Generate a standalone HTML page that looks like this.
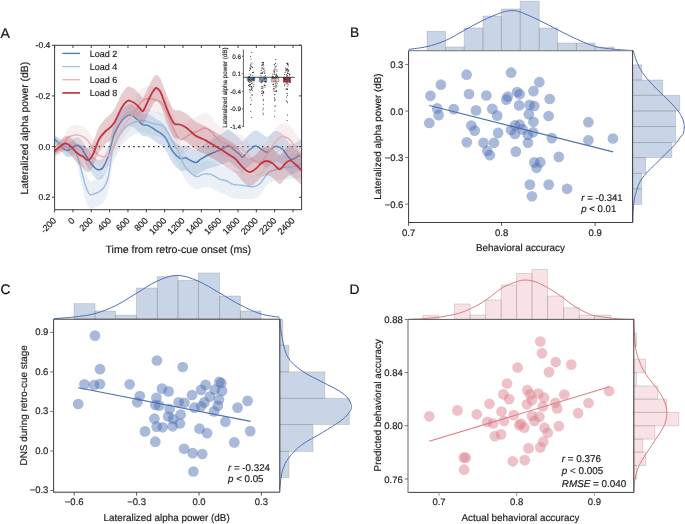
<!DOCTYPE html>
<html><head><meta charset="utf-8"><style>
html,body{margin:0;padding:0;background:#fff;width:685px;height:524px;overflow:hidden;}
body{position:relative;font-family:"Liberation Sans", sans-serif;}
</style></head><body>
<svg width="685" height="524" viewBox="0 0 685 524" style="position:absolute;left:0;top:0;will-change:transform"><g font-family='"Liberation Sans", sans-serif' stroke-linejoin="round" text-rendering="geometricPrecision"><defs><clipPath id="clipA"><rect x="54.6" y="45.5" width="247" height="164.2"/></clipPath></defs><g clip-path="url(#clipA)"><line x1="54.6" y1="146.6" x2="301.6" y2="146.6" stroke="#111" stroke-width="1.35" stroke-dasharray="1.45 3.5" stroke-dashoffset="0.5"/><path d="M54.7,135.2 C55.48,135.84 57.98,137.76 59.4,139.06 C60.82,140.35 61.95,142.19 63.2,142.98 C64.45,143.77 65.67,144.02 66.9,143.8 C68.13,143.59 69.37,142.63 70.6,141.68 C71.83,140.73 73.05,138.84 74.3,138.11 C75.55,137.39 76.85,136.98 78.1,137.32 C79.35,137.65 80.57,138.7 81.8,140.14 C83.03,141.57 84.27,144.01 85.5,145.94 C86.73,147.86 87.75,149.79 89.2,151.7 C90.65,153.6 92.75,156.05 94.2,157.37 C95.65,158.7 96.47,159.57 97.9,159.64 C99.33,159.71 101,160.23 102.8,157.78 C104.6,155.32 107.23,149 108.7,144.9 C110.17,140.8 110.63,136.75 111.6,133.17 C112.57,129.59 113.22,126.69 114.5,123.42 C115.78,120.16 117.55,116.4 119.3,113.59 C121.05,110.78 123.23,108.16 125,106.57 C126.77,104.99 128.45,104.27 129.9,104.1 C131.35,103.93 132.27,104.63 133.7,105.58 C135.13,106.52 137.05,108.47 138.5,109.78 C139.95,111.1 140.95,112.8 142.4,113.47 C143.85,114.14 145.6,113.38 147.2,113.8 C148.8,114.23 150.4,115.12 152,116.03 C153.6,116.93 155.18,118.26 156.8,119.25 C158.42,120.25 160.17,120.77 161.7,122.01 C163.23,123.26 164.7,124.81 166,126.73 C167.3,128.64 168.2,131.16 169.5,133.5 C170.8,135.84 171.98,138.64 173.8,140.76 C175.62,142.88 178.43,145.49 180.4,146.22 C182.37,146.96 183.97,144.97 185.6,145.17 C187.23,145.37 188.47,146.7 190.2,147.45 C191.93,148.2 194.35,149.79 196,149.65 C197.65,149.51 198.68,147.57 200.1,146.6 C201.52,145.63 202.9,144.82 204.5,143.81 C206.1,142.79 207.7,141.72 209.7,140.52 C211.7,139.32 214.25,137.88 216.5,136.59 C218.75,135.31 221.2,133.98 223.2,132.81 C225.2,131.65 226.73,129.48 228.5,129.6 C230.27,129.72 231.95,132.07 233.8,133.54 C235.65,135.02 238.12,137.19 239.6,138.48 C241.08,139.77 241.22,141.81 242.7,141.27 C244.18,140.73 246.4,137.03 248.5,135.22 C250.6,133.41 253.22,130.72 255.3,130.4 C257.38,130.08 259.08,132.26 261,133.32 C262.92,134.39 264.87,136.91 266.8,136.78 C268.73,136.65 270.83,133.5 272.6,132.56 C274.37,131.62 275.63,130.79 277.4,131.13 C279.17,131.48 281.43,132.91 283.2,134.62 C284.97,136.33 286.55,139.77 288,141.39 C289.45,143.01 290.13,144.41 291.9,144.34 C293.67,144.27 296.98,141.88 298.6,140.99 C300.22,140.1 301.1,139.33 301.6,139 L301.6,169 C301.1,169.33 300.22,170.1 298.6,171.01 C296.98,171.92 293.67,174.36 291.9,174.46 C290.13,174.56 289.45,173.19 288,171.61 C286.55,170.03 284.97,166.63 283.2,164.98 C281.43,163.32 279.17,161.96 277.4,161.67 C275.63,161.38 274.37,162.25 272.6,163.24 C270.83,164.23 268.73,167.45 266.8,167.62 C264.87,167.79 262.92,165.31 261,164.28 C259.08,163.24 257.38,161.05 255.3,161.4 C253.22,161.75 250.6,164.49 248.5,166.38 C246.4,168.27 244.18,172.11 242.7,172.73 C241.22,173.35 241.08,171.33 239.6,170.12 C238.12,168.91 235.65,166.88 233.8,165.46 C231.95,164.03 230.27,161.81 228.5,161.6 C226.73,161.39 225.2,163.42 223.2,164.19 C221.2,164.96 218.75,165.56 216.5,166.21 C214.25,166.86 211.7,167.42 209.7,168.08 C207.7,168.75 206.1,169.44 204.5,170.19 C202.9,170.95 201.52,171.71 200.1,172.6 C198.68,173.49 197.65,175.49 196,175.55 C194.35,175.61 191.93,173.84 190.2,172.95 C188.47,172.06 187.23,170.59 185.6,170.23 C183.97,169.87 182.37,171.67 180.4,170.78 C178.43,169.88 175.62,167.06 173.8,164.84 C171.98,162.63 170.8,159.86 169.5,157.5 C168.2,155.14 167.3,152.62 166,150.67 C164.7,148.72 163.23,147.11 161.7,145.79 C160.17,144.47 158.42,143.85 156.8,142.75 C155.18,141.64 153.6,140.2 152,139.17 C150.4,138.15 148.8,137.14 147.2,136.6 C145.6,136.05 143.85,136.69 142.4,135.93 C140.95,135.17 139.95,133.4 138.5,132.02 C137.05,130.63 135.13,128.61 133.7,127.62 C132.27,126.64 131.35,125.97 129.9,126.1 C128.45,126.23 126.77,126.94 125,128.43 C123.23,129.91 121.05,132.35 119.3,135.01 C117.55,137.67 115.78,141.24 114.5,144.38 C113.22,147.51 112.57,150.34 111.6,153.83 C110.63,157.32 110.17,161.3 108.7,165.3 C107.23,169.3 104.6,175.45 102.8,177.82 C101,180.2 99.33,179.73 97.9,179.56 C96.47,179.39 95.65,178.4 94.2,176.83 C92.75,175.25 90.65,172.33 89.2,170.1 C87.75,167.88 86.73,165.67 85.5,163.46 C84.27,161.26 83.03,158.53 81.8,156.86 C80.57,155.2 79.35,153.95 78.1,153.48 C76.85,153.02 75.55,153.55 74.3,154.09 C73.05,154.62 71.83,156.23 70.6,156.72 C69.37,157.2 68.13,157.45 66.9,157 C65.67,156.55 64.45,155.49 63.2,154.02 C61.95,152.54 60.82,149.95 59.4,148.14 C57.98,146.34 55.48,144.02 54.7,143.2 Z" fill="#4a78b4" fill-opacity="0.23"/><path d="M54.7,139.2 C55.48,139.93 57.98,142.05 59.4,143.6 C60.82,145.15 61.95,147.37 63.2,148.5 C64.45,149.63 65.67,150.28 66.9,150.4 C68.13,150.52 69.37,149.92 70.6,149.2 C71.83,148.48 73.05,146.73 74.3,146.1 C75.55,145.47 76.85,145 78.1,145.4 C79.35,145.8 80.57,146.95 81.8,148.5 C83.03,150.05 84.27,152.63 85.5,154.7 C86.73,156.77 87.75,158.83 89.2,160.9 C90.65,162.97 92.75,165.65 94.2,167.1 C95.65,168.55 96.47,169.48 97.9,169.6 C99.33,169.72 101,170.22 102.8,167.8 C104.6,165.38 107.23,159.15 108.7,155.1 C110.17,151.05 110.63,147.03 111.6,143.5 C112.57,139.97 113.22,137.1 114.5,133.9 C115.78,130.7 117.55,127.03 119.3,124.3 C121.05,121.57 123.23,119.03 125,117.5 C126.77,115.97 128.45,115.25 129.9,115.1 C131.35,114.95 132.27,115.63 133.7,116.6 C135.13,117.57 137.05,119.55 138.5,120.9 C139.95,122.25 140.95,123.98 142.4,124.7 C143.85,125.42 145.6,124.72 147.2,125.2 C148.8,125.68 150.4,126.63 152,127.6 C153.6,128.57 155.18,129.95 156.8,131 C158.42,132.05 160.17,132.62 161.7,133.9 C163.23,135.18 164.7,136.77 166,138.7 C167.3,140.63 168.2,143.15 169.5,145.5 C170.8,147.85 171.98,150.63 173.8,152.8 C175.62,154.97 178.43,157.68 180.4,158.5 C182.37,159.32 183.97,157.42 185.6,157.7 C187.23,157.98 188.47,159.38 190.2,160.2 C191.93,161.02 194.35,162.7 196,162.6 C197.65,162.5 198.68,160.53 200.1,159.6 C201.52,158.67 202.9,157.88 204.5,157 C206.1,156.12 207.7,155.23 209.7,154.3 C211.7,153.37 214.25,152.37 216.5,151.4 C218.75,150.43 221.2,149.47 223.2,148.5 C225.2,147.53 226.73,145.43 228.5,145.6 C230.27,145.77 231.95,148.05 233.8,149.5 C235.65,150.95 238.12,153.05 239.6,154.3 C241.08,155.55 241.22,157.58 242.7,157 C244.18,156.42 246.4,152.65 248.5,150.8 C250.6,148.95 253.22,146.23 255.3,145.9 C257.38,145.57 259.08,147.75 261,148.8 C262.92,149.85 264.87,152.35 266.8,152.2 C268.73,152.05 270.83,148.87 272.6,147.9 C274.37,146.93 275.63,146.08 277.4,146.4 C279.17,146.72 281.43,148.12 283.2,149.8 C284.97,151.48 286.55,154.9 288,156.5 C289.45,158.1 290.13,159.48 291.9,159.4 C293.67,159.32 296.98,156.9 298.6,156 C300.22,155.1 301.1,154.33 301.6,154" fill="none" stroke="#4a78b4" stroke-width="1.5"/><path d="M54.7,136 C55.58,136.39 58.28,137.75 60,138.32 C61.72,138.9 63.33,139.16 65,139.46 C66.67,139.75 68.58,139.84 70,140.11 C71.42,140.38 72.55,140.6 73.5,141.06 C74.45,141.53 74.87,141.57 75.7,142.89 C76.53,144.21 77.53,146.54 78.5,148.97 C79.47,151.39 80.42,153.96 81.5,157.46 C82.58,160.97 83.92,166.58 85,170 C86.08,173.42 87.13,176.2 88,178 C88.87,179.8 89.28,180.47 90.2,180.8 C91.12,181.13 92.28,180.37 93.5,180 C94.72,179.63 95.87,179.57 97.5,178.6 C99.13,177.63 101.72,176.13 103.3,174.2 C104.88,172.27 105.95,170.03 107,167 C108.05,163.97 108.77,160.83 109.6,156 C110.43,151.17 111.18,142 112,138.01 C112.82,134.03 113.45,134.44 114.5,132.07 C115.55,129.7 116.87,126.42 118.3,123.82 C119.73,121.23 121.48,118.42 123.1,116.5 C124.72,114.59 126.35,113.48 128,112.35 C129.65,111.22 131.33,110.35 133,109.72 C134.67,109.09 136.27,108.81 138,108.57 C139.73,108.32 141.7,108.03 143.4,108.25 C145.1,108.47 146.43,109.3 148.2,109.89 C149.97,110.47 152.08,111.33 154,111.77 C155.92,112.22 158.03,112.06 159.7,112.55 C161.37,113.04 162.7,113.54 164,114.72 C165.3,115.89 166.42,117.8 167.5,119.59 C168.58,121.39 169.42,123.52 170.5,125.48 C171.58,127.44 172.62,128.93 174,131.35 C175.38,133.77 177.18,136.66 178.8,139.99 C180.42,143.33 181.8,148.12 183.7,151.37 C185.6,154.62 188.02,157.47 190.2,159.5 C192.38,161.53 194.62,163.31 196.8,163.54 C198.98,163.77 201.12,161.37 203.3,160.9 C205.48,160.42 207.7,160.22 209.9,160.7 C212.1,161.18 214.82,162.97 216.5,163.79 C218.18,164.6 218.32,165.03 220,165.58 C221.68,166.13 224.42,166.32 226.6,167.11 C228.78,167.9 230.92,169.63 233.1,170.31 C235.28,171 237.52,170.83 239.7,171.23 C241.88,171.62 244.02,172.16 246.2,172.7 C248.38,173.25 250.62,174.43 252.8,174.47 C254.98,174.5 257.38,174.22 259.3,172.92 C261.22,171.62 262.65,168.67 264.3,166.67 C265.95,164.68 267.3,162.38 269.2,160.96 C271.1,159.53 273.9,158.93 275.7,158.14 C277.5,157.35 278,156.77 280,156.23 C282,155.69 284.78,155.49 287.7,154.9 C290.62,154.31 295.18,153.35 297.5,152.69 C299.82,152.02 300.92,151.2 301.6,150.9 L301.6,176.9 C300.92,177.17 299.82,178.08 297.5,178.51 C295.18,178.95 290.62,179.33 287.7,179.5 C284.78,179.68 282,179.35 280,179.57 C278,179.8 277.5,180.28 275.7,180.86 C273.9,181.44 271.1,181.73 269.2,183.04 C267.3,184.36 265.95,186.62 264.3,188.73 C262.65,190.83 261.22,193.98 259.3,195.68 C257.38,197.38 254.98,198.36 252.8,198.93 C250.62,199.5 248.38,199.09 246.2,199.1 C244.02,199.1 241.88,199.11 239.7,198.97 C237.52,198.84 235.28,198.97 233.1,198.29 C230.92,197.61 228.78,195.77 226.6,194.89 C224.42,194.01 221.68,193.67 220,193.02 C218.32,192.37 218.18,191.93 216.5,191.01 C214.82,190.09 212.1,188.12 209.9,187.5 C207.7,186.88 205.48,186.94 203.3,187.3 C201.12,187.66 198.98,189.96 196.8,189.66 C194.62,189.36 192.38,187.57 190.2,185.5 C188.02,183.43 185.6,180.55 183.7,177.23 C181.8,173.92 180.42,169.04 178.8,165.61 C177.18,162.18 175.38,159.16 174,156.65 C172.62,154.13 171.58,152.56 170.5,150.52 C169.42,148.48 168.58,146.28 167.5,144.41 C166.42,142.53 165.3,140.54 164,139.28 C162.7,138.02 161.37,137.42 159.7,136.85 C158.03,136.27 155.92,136.32 154,135.83 C152.08,135.34 149.97,134.46 148.2,133.91 C146.43,133.36 145.1,132.63 143.4,132.55 C141.7,132.47 139.73,132.98 138,133.43 C136.27,133.89 134.67,134.41 133,135.28 C131.33,136.15 129.65,137.28 128,138.65 C126.35,140.02 124.72,141.38 123.1,143.5 C121.48,145.62 119.73,148.64 118.3,151.38 C116.87,154.12 115.55,157.5 114.5,159.93 C113.45,162.36 112.82,161.97 112,165.99 C111.18,170 110.43,179.16 109.6,184 C108.77,188.84 108.05,191.97 107,195 C105.95,198.03 104.88,200.27 103.3,202.2 C101.72,204.13 99.13,205.63 97.5,206.6 C95.87,207.57 94.72,207.63 93.5,208 C92.28,208.37 91.12,209.13 90.2,208.8 C89.28,208.47 88.87,207.8 88,206 C87.13,204.2 86.08,201.58 85,198 C83.92,194.42 82.58,189.03 81.5,184.54 C80.42,180.04 79.47,174.94 78.5,171.03 C77.53,167.13 76.53,163.12 75.7,161.11 C74.87,159.09 74.45,159.64 73.5,158.94 C72.55,158.23 71.42,157.79 70,156.89 C68.58,155.99 66.67,154.75 65,153.54 C63.33,152.34 61.72,150.93 60,149.68 C58.28,148.42 55.58,146.61 54.7,146 Z" fill="#96b4d2" fill-opacity="0.2"/><path d="M54.7,141 C55.58,141.5 58.28,143.08 60,144 C61.72,144.92 63.33,145.75 65,146.5 C66.67,147.25 68.58,147.92 70,148.5 C71.42,149.08 72.55,149.42 73.5,150 C74.45,150.58 74.87,150.33 75.7,152 C76.53,153.67 77.53,156.83 78.5,160 C79.47,163.17 80.42,167 81.5,171 C82.58,175 83.92,180.5 85,184 C86.08,187.5 87.13,190.2 88,192 C88.87,193.8 89.28,194.47 90.2,194.8 C91.12,195.13 92.28,194.37 93.5,194 C94.72,193.63 95.87,193.57 97.5,192.6 C99.13,191.63 101.72,190.13 103.3,188.2 C104.88,186.27 105.95,184.03 107,181 C108.05,177.97 108.77,174.83 109.6,170 C110.43,165.17 111.18,156 112,152 C112.82,148 113.45,148.4 114.5,146 C115.55,143.6 116.87,140.27 118.3,137.6 C119.73,134.93 121.48,132.02 123.1,130 C124.72,127.98 126.35,126.75 128,125.5 C129.65,124.25 131.33,123.25 133,122.5 C134.67,121.75 136.27,121.35 138,121 C139.73,120.65 141.7,120.25 143.4,120.4 C145.1,120.55 146.43,121.33 148.2,121.9 C149.97,122.47 152.08,123.33 154,123.8 C155.92,124.27 158.03,124.17 159.7,124.7 C161.37,125.23 162.7,125.78 164,127 C165.3,128.22 166.42,130.17 167.5,132 C168.58,133.83 169.42,136 170.5,138 C171.58,140 172.62,141.53 174,144 C175.38,146.47 177.18,149.42 178.8,152.8 C180.42,156.18 181.8,161.02 183.7,164.3 C185.6,167.58 188.02,170.45 190.2,172.5 C192.38,174.55 194.62,176.33 196.8,176.6 C198.98,176.87 201.12,174.52 203.3,174.1 C205.48,173.68 207.7,173.55 209.9,174.1 C212.1,174.65 214.82,176.53 216.5,177.4 C218.18,178.27 218.32,178.7 220,179.3 C221.68,179.9 224.42,180.17 226.6,181 C228.78,181.83 230.92,183.62 233.1,184.3 C235.28,184.98 237.52,184.83 239.7,185.1 C241.88,185.37 244.02,185.63 246.2,185.9 C248.38,186.17 250.62,186.97 252.8,186.7 C254.98,186.43 257.38,185.8 259.3,184.3 C261.22,182.8 262.65,179.75 264.3,177.7 C265.95,175.65 267.3,173.37 269.2,172 C271.1,170.63 273.9,170.18 275.7,169.5 C277.5,168.82 278,168.28 280,167.9 C282,167.52 284.78,167.58 287.7,167.2 C290.62,166.82 295.18,166.15 297.5,165.6 C299.82,165.05 300.92,164.18 301.6,163.9" fill="none" stroke="#9dbcdf" stroke-width="1.4"/><path d="M54.7,147 C55.42,146.57 57.38,146.31 59,144.42 C60.62,142.53 62.88,138.28 64.4,135.67 C65.92,133.05 66.65,130.41 68.1,128.74 C69.55,127.07 71.43,126.27 73.1,125.62 C74.77,124.98 76.45,124.72 78.1,124.89 C79.75,125.05 81.35,125.62 83,126.62 C84.65,127.62 86.35,128.97 88,130.89 C89.65,132.81 91.25,135.92 92.9,138.12 C94.55,140.33 96.38,142.83 97.9,144.12 C99.42,145.4 100.63,145.63 102,145.83 C103.37,146.03 104.83,145.72 106.1,145.33 C107.37,144.93 108.53,144.89 109.6,143.45 C110.67,142.01 111.53,138.91 112.5,136.7 C113.47,134.48 113.95,133.22 115.4,130.15 C116.85,127.08 119.27,121.72 121.2,118.26 C123.13,114.81 125.07,112.05 127,109.4 C128.93,106.75 131.2,104.52 132.8,102.38 C134.4,100.24 135.4,98.45 136.6,96.56 C137.8,94.68 138.6,92.73 140,91.08 C141.4,89.44 143.35,87.54 145,86.71 C146.65,85.88 148.25,86.01 149.9,86.09 C151.55,86.17 153.23,86.73 154.9,87.2 C156.57,87.67 158.45,87.94 159.9,88.92 C161.35,89.89 162.37,90.94 163.6,93.04 C164.83,95.14 166.07,98.71 167.3,101.53 C168.53,104.36 169.77,107.37 171,110.01 C172.23,112.65 173.62,115.26 174.7,117.37 C175.78,119.48 176.48,121.28 177.5,122.68 C178.52,124.08 179.45,125.72 180.8,125.77 C182.15,125.82 183.98,124.02 185.6,122.97 C187.22,121.93 188.57,120.61 190.5,119.5 C192.43,118.4 194.97,117.36 197.2,116.33 C199.43,115.29 202.13,113.72 203.9,113.3 C205.67,112.89 206.35,113 207.8,113.83 C209.25,114.67 211.15,116.74 212.6,118.33 C214.05,119.91 215.05,121.82 216.5,123.37 C217.95,124.91 219.7,126.53 221.3,127.61 C222.9,128.69 224.33,129.1 226.1,129.84 C227.87,130.58 230.25,131.27 231.9,132.03 C233.55,132.79 234.35,133.85 236,134.4 C237.65,134.95 239.72,134.02 241.8,135.3 C243.88,136.58 246.25,140 248.5,142.1 C250.75,144.2 253.37,146.78 255.3,147.9 C257.23,149.02 258.65,149.28 260.1,148.8 C261.55,148.32 262.72,146.45 264,145 C265.28,143.55 266.05,142.68 267.8,140.1 C269.55,137.52 272.25,132.3 274.5,129.5 C276.75,126.7 279.05,124.14 281.3,123.3 C283.55,122.46 285.92,123.23 288,124.44 C290.08,125.66 291.87,128.23 293.8,130.6 C295.73,132.97 298.3,136.85 299.6,138.67 C300.9,140.48 301.27,141.03 301.6,141.5 L301.6,171.5 C301.27,171 300.9,170.55 299.6,168.53 C298.3,166.52 295.73,162.17 293.8,159.4 C291.87,156.64 290.08,153.47 288,151.96 C285.92,150.44 283.55,149.54 281.3,150.3 C279.05,151.06 276.75,153.7 274.5,156.5 C272.25,159.3 269.55,164.52 267.8,167.1 C266.05,169.68 265.28,170.55 264,172 C262.72,173.45 261.55,175.32 260.1,175.8 C258.65,176.28 257.23,176.02 255.3,174.9 C253.37,173.78 250.75,171.2 248.5,169.1 C246.25,167 243.88,163.58 241.8,162.3 C239.72,161.02 237.65,161.92 236,161.4 C234.35,160.88 233.55,159.81 231.9,159.17 C230.25,158.53 227.87,158.09 226.1,157.56 C224.33,157.03 222.9,156.85 221.3,155.99 C219.7,155.14 217.95,153.79 216.5,152.43 C215.05,151.08 214.05,149.32 212.6,147.87 C211.15,146.43 209.25,144.53 207.8,143.77 C206.35,143 205.67,142.91 203.9,143.3 C202.13,143.68 199.43,145.17 197.2,146.07 C194.97,146.97 192.43,147.77 190.5,148.7 C188.57,149.62 187.22,150.77 185.6,151.63 C183.98,152.48 182.15,154.05 180.8,153.83 C179.45,153.61 178.52,151.85 177.5,150.32 C176.48,148.78 175.78,146.89 174.7,144.63 C173.62,142.38 172.23,139.59 171,136.79 C169.77,134 168.53,130.84 167.3,127.87 C166.07,124.89 164.83,121.19 163.6,118.96 C162.37,116.73 161.35,115.57 159.9,114.48 C158.45,113.39 156.57,112.96 154.9,112.4 C153.23,111.84 151.55,111.23 149.9,111.11 C148.25,110.99 146.65,110.89 145,111.69 C143.35,112.49 141.4,114.33 140,115.92 C138.6,117.51 137.8,119.42 136.6,121.24 C135.4,123.05 134.4,124.79 132.8,126.82 C131.2,128.85 128.93,130.91 127,133.4 C125.07,135.88 123.13,138.46 121.2,141.74 C119.27,145.01 116.85,150.12 115.4,153.05 C113.95,155.98 113.47,157.18 112.5,159.3 C111.53,161.42 110.67,164.42 109.6,165.75 C108.53,167.08 107.37,167 106.1,167.27 C104.83,167.54 103.37,167.7 102,167.37 C100.63,167.04 99.42,166.7 97.9,165.28 C96.38,163.87 94.55,161.21 92.9,158.88 C91.25,156.55 89.65,153.33 88,151.31 C86.35,149.29 84.65,147.85 83,146.78 C81.35,145.72 79.75,145.15 78.1,144.91 C76.45,144.68 74.77,145.19 73.1,145.38 C71.43,145.57 69.55,145.23 68.1,146.06 C66.65,146.89 65.92,148.75 64.4,150.33 C62.88,151.92 60.62,154.47 59,155.58 C57.38,156.69 55.42,156.76 54.7,157 Z" fill="#d7afb4" fill-opacity="0.2"/><path d="M54.7,152 C55.42,151.67 57.38,151.5 59,150 C60.62,148.5 62.88,145.1 64.4,143 C65.92,140.9 66.65,138.65 68.1,137.4 C69.55,136.15 71.43,135.92 73.1,135.5 C74.77,135.08 76.45,134.7 78.1,134.9 C79.75,135.1 81.35,135.67 83,136.7 C84.65,137.73 86.35,139.13 88,141.1 C89.65,143.07 91.25,146.23 92.9,148.5 C94.55,150.77 96.38,153.35 97.9,154.7 C99.42,156.05 100.63,156.33 102,156.6 C103.37,156.87 104.83,156.63 106.1,156.3 C107.37,155.97 108.53,155.98 109.6,154.6 C110.67,153.22 111.53,150.17 112.5,148 C113.47,145.83 113.95,144.6 115.4,141.6 C116.85,138.6 119.27,133.37 121.2,130 C123.13,126.63 125.07,123.97 127,121.4 C128.93,118.83 131.2,116.68 132.8,114.6 C134.4,112.52 135.4,110.75 136.6,108.9 C137.8,107.05 138.6,105.12 140,103.5 C141.4,101.88 143.35,100.02 145,99.2 C146.65,98.38 148.25,98.5 149.9,98.6 C151.55,98.7 153.23,99.28 154.9,99.8 C156.57,100.32 158.45,100.67 159.9,101.7 C161.35,102.73 162.37,103.83 163.6,106 C164.83,108.17 166.07,111.8 167.3,114.7 C168.53,117.6 169.77,120.68 171,123.4 C172.23,126.12 173.62,128.82 174.7,131 C175.78,133.18 176.48,135.03 177.5,136.5 C178.52,137.97 179.45,139.67 180.8,139.8 C182.15,139.93 183.98,138.25 185.6,137.3 C187.22,136.35 188.57,135.12 190.5,134.1 C192.43,133.08 194.97,132.17 197.2,131.2 C199.43,130.23 202.13,128.7 203.9,128.3 C205.67,127.9 206.35,128 207.8,128.8 C209.25,129.6 211.15,131.58 212.6,133.1 C214.05,134.62 215.05,136.45 216.5,137.9 C217.95,139.35 219.7,140.83 221.3,141.8 C222.9,142.77 224.33,143.07 226.1,143.7 C227.87,144.33 230.25,144.9 231.9,145.6 C233.55,146.3 234.35,147.37 236,147.9 C237.65,148.43 239.72,147.52 241.8,148.8 C243.88,150.08 246.25,153.5 248.5,155.6 C250.75,157.7 253.37,160.28 255.3,161.4 C257.23,162.52 258.65,162.78 260.1,162.3 C261.55,161.82 262.72,159.95 264,158.5 C265.28,157.05 266.05,156.18 267.8,153.6 C269.55,151.02 272.25,145.8 274.5,143 C276.75,140.2 279.05,137.6 281.3,136.8 C283.55,136 285.92,136.83 288,138.2 C290.08,139.57 291.87,142.43 293.8,145 C295.73,147.57 298.3,151.68 299.6,153.6 C300.9,155.52 301.27,156.02 301.6,156.5" fill="none" stroke="#eab2b6" stroke-width="1.5"/><path d="M54.7,146 C55.48,145.29 57.78,143.3 59.4,141.76 C61.02,140.21 62.95,137.65 64.4,136.73 C65.85,135.82 66.85,135.97 68.1,136.27 C69.35,136.58 70.65,137.5 71.9,138.55 C73.15,139.6 74.37,141.55 75.6,142.57 C76.83,143.6 78.07,144.25 79.3,144.68 C80.53,145.11 81.77,144.65 83,145.15 C84.23,145.65 85.67,147.28 86.7,147.7 C87.73,148.12 88.17,148.52 89.2,147.67 C90.23,146.81 91.65,145.1 92.9,142.57 C94.15,140.04 95.52,135.38 96.7,132.5 C97.88,129.63 98.48,127.71 100,125.32 C101.52,122.93 104.03,120.03 105.8,118.15 C107.57,116.27 109.15,115.57 110.6,114.02 C112.05,112.48 113.22,111.05 114.5,108.87 C115.78,106.69 117.02,103.58 118.3,100.95 C119.58,98.32 120.63,95.42 122.2,93.07 C123.77,90.71 126.15,87.74 127.7,86.82 C129.25,85.89 130.13,86.94 131.5,87.51 C132.87,88.08 134.48,89.01 135.9,90.23 C137.32,91.45 138.8,93.62 140,94.83 C141.2,96.04 141.87,98.47 143.1,97.51 C144.33,96.54 145.85,92.07 147.4,89.04 C148.95,86.02 150.95,81.69 152.4,79.35 C153.85,77.01 154.85,75.22 156.1,75 C157.35,74.78 158.65,76.1 159.9,78.03 C161.15,79.96 162.37,83.53 163.6,86.56 C164.83,89.6 166.07,93.22 167.3,96.24 C168.53,99.27 169.77,102.4 171,104.72 C172.23,107.03 173.22,109.16 174.7,110.12 C176.18,111.09 178.08,109.97 179.9,110.5 C181.72,111.03 183.83,112.18 185.6,113.3 C187.37,114.42 188.88,115.83 190.5,117.2 C192.12,118.57 193.7,120.38 195.3,121.5 C196.9,122.62 198.5,123.17 200.1,123.9 C201.7,124.63 203.3,125.08 204.9,125.9 C206.5,126.72 208.1,127.85 209.7,128.8 C211.3,129.75 212.88,130.65 214.5,131.6 C216.12,132.55 217.78,133.53 219.4,134.5 C221.02,135.47 222.43,136.27 224.2,137.4 C225.97,138.53 228.08,140.02 230,141.3 C231.92,142.58 234.08,143.67 235.7,145.1 C237.32,146.53 237.95,148 239.7,149.9 C241.45,151.8 244.43,155.13 246.2,156.5 C247.97,157.87 248.65,158.44 250.3,158.09 C251.95,157.75 254.27,155.92 256.1,154.42 C257.93,152.93 259.52,150.41 261.3,149.11 C263.08,147.82 264.93,146.71 266.8,146.66 C268.67,146.61 270.37,147.47 272.5,148.78 C274.63,150.1 277.52,154.51 279.6,154.57 C281.68,154.63 283.27,150.65 285,149.13 C286.73,147.61 288.18,145.33 290,145.44 C291.82,145.55 293.97,148.12 295.9,149.8 C297.83,151.48 300.65,154.55 301.6,155.5 L301.6,185.5 C300.65,184.55 297.83,181.49 295.9,179.8 C293.97,178.11 291.82,175.51 290,175.36 C288.18,175.2 286.73,177.42 285,178.87 C283.27,180.31 281.68,184.2 279.6,184.03 C277.52,183.85 274.63,179.26 272.5,177.82 C270.37,176.37 268.67,175.39 266.8,175.34 C264.93,175.29 263.08,176.28 261.3,177.49 C259.52,178.69 257.93,181.14 256.1,182.58 C254.27,184.01 251.95,185.79 250.3,186.11 C248.65,186.43 247.97,185.87 246.2,184.5 C244.43,183.13 241.45,179.8 239.7,177.9 C237.95,176 237.32,174.53 235.7,173.1 C234.08,171.67 231.92,170.58 230,169.3 C228.08,168.02 225.97,166.53 224.2,165.4 C222.43,164.27 221.02,163.47 219.4,162.5 C217.78,161.53 216.12,160.55 214.5,159.6 C212.88,158.65 211.3,157.75 209.7,156.8 C208.1,155.85 206.5,154.72 204.9,153.9 C203.3,153.08 201.7,152.63 200.1,151.9 C198.5,151.17 196.9,150.62 195.3,149.5 C193.7,148.38 192.12,146.57 190.5,145.2 C188.88,143.83 187.37,142.42 185.6,141.3 C183.83,140.18 181.72,139.07 179.9,138.5 C178.08,137.93 176.18,138.94 174.7,137.88 C173.22,136.81 172.23,134.54 171,132.08 C169.77,129.63 168.53,126.33 167.3,123.16 C166.07,119.98 164.83,116.2 163.6,113.04 C162.37,109.87 161.15,106.18 159.9,104.17 C158.65,102.16 157.35,100.79 156.1,101 C154.85,101.21 153.85,103.03 152.4,105.45 C150.95,107.88 148.95,112.38 147.4,115.56 C145.85,118.73 144.33,123.39 143.1,124.49 C141.87,125.6 141.2,123.26 140,122.17 C138.8,121.08 137.32,119.08 135.9,117.97 C134.48,116.86 132.87,116.02 131.5,115.49 C130.13,114.96 129.25,113.91 127.7,114.78 C126.15,115.66 123.77,118.49 122.2,120.73 C120.63,122.98 119.58,125.75 118.3,128.25 C117.02,130.75 115.78,133.71 114.5,135.73 C113.22,137.75 112.05,139.02 110.6,140.38 C109.15,141.73 107.57,142.2 105.8,143.85 C104.03,145.5 101.52,148.07 100,150.28 C98.48,152.49 97.88,154.34 96.7,157.1 C95.52,159.86 94.15,164.39 92.9,166.83 C91.65,169.27 90.23,170.92 89.2,171.73 C88.17,172.54 87.73,172.31 86.7,171.7 C85.67,171.09 84.23,169.22 83,168.05 C81.77,166.89 80.53,165.95 79.3,164.72 C78.07,163.48 76.83,162.07 75.6,160.63 C74.37,159.18 73.15,157.46 71.9,156.05 C70.65,154.63 69.35,153.06 68.1,152.13 C66.85,151.2 65.85,150.35 64.4,150.47 C62.95,150.59 61.02,151.92 59.4,152.84 C57.78,153.77 55.48,155.47 54.7,156 Z" fill="#af5566" fill-opacity="0.3"/><path d="M54.7,151 C55.48,150.38 57.78,148.53 59.4,147.3 C61.02,146.07 62.95,144.12 64.4,143.6 C65.85,143.08 66.85,143.58 68.1,144.2 C69.35,144.82 70.65,146.07 71.9,147.3 C73.15,148.53 74.37,150.37 75.6,151.6 C76.83,152.83 78.07,153.87 79.3,154.7 C80.53,155.53 81.77,155.77 83,156.6 C84.23,157.43 85.67,159.18 86.7,159.7 C87.73,160.22 88.17,160.53 89.2,159.7 C90.23,158.87 91.65,157.18 92.9,154.7 C94.15,152.22 95.52,147.62 96.7,144.8 C97.88,141.98 98.48,140.1 100,137.8 C101.52,135.5 104.03,132.77 105.8,131 C107.57,129.23 109.15,128.65 110.6,127.2 C112.05,125.75 113.22,124.4 114.5,122.3 C115.78,120.2 117.02,117.17 118.3,114.6 C119.58,112.03 120.63,109.2 122.2,106.9 C123.77,104.6 126.15,101.7 127.7,100.8 C129.25,99.9 130.13,100.95 131.5,101.5 C132.87,102.05 134.48,102.93 135.9,104.1 C137.32,105.27 138.8,107.35 140,108.5 C141.2,109.65 141.87,112.03 143.1,111 C144.33,109.97 145.85,105.4 147.4,102.3 C148.95,99.2 150.95,94.78 152.4,92.4 C153.85,90.02 154.85,88.22 156.1,88 C157.35,87.78 158.65,89.13 159.9,91.1 C161.15,93.07 162.37,96.7 163.6,99.8 C164.83,102.9 166.07,106.6 167.3,109.7 C168.53,112.8 169.77,116.02 171,118.4 C172.23,120.78 173.22,122.98 174.7,124 C176.18,125.02 178.08,123.95 179.9,124.5 C181.72,125.05 183.83,126.18 185.6,127.3 C187.37,128.42 188.88,129.83 190.5,131.2 C192.12,132.57 193.7,134.38 195.3,135.5 C196.9,136.62 198.5,137.17 200.1,137.9 C201.7,138.63 203.3,139.08 204.9,139.9 C206.5,140.72 208.1,141.85 209.7,142.8 C211.3,143.75 212.88,144.65 214.5,145.6 C216.12,146.55 217.78,147.53 219.4,148.5 C221.02,149.47 222.43,150.27 224.2,151.4 C225.97,152.53 228.08,154.02 230,155.3 C231.92,156.58 234.08,157.67 235.7,159.1 C237.32,160.53 237.95,162 239.7,163.9 C241.45,165.8 244.43,169.13 246.2,170.5 C247.97,171.87 248.65,172.43 250.3,172.1 C251.95,171.77 254.27,169.97 256.1,168.5 C257.93,167.03 259.52,164.55 261.3,163.3 C263.08,162.05 264.93,161 266.8,161 C268.67,161 270.37,161.92 272.5,163.3 C274.63,164.68 277.52,169.18 279.6,169.3 C281.68,169.42 283.27,165.48 285,164 C286.73,162.52 288.18,160.27 290,160.4 C291.82,160.53 293.97,163.12 295.9,164.8 C297.83,166.48 300.65,169.55 301.6,170.5" fill="none" stroke="#c23640" stroke-width="1.8"/></g><rect x="54.6" y="45.3" width="247.00000000000003" height="164.39999999999998" fill="none" stroke="#3a3a3a" stroke-width="1"/><line x1="52" y1="45.24" x2="54.6" y2="45.24" stroke="#3a3a3a" stroke-width="1" /><line x1="299" y1="45.24" x2="301.6" y2="45.24" stroke="#3a3a3a" stroke-width="1" /><text x="50.4" y="48.34" font-size="8.6" text-anchor="end" fill="#1c1c1c" stroke="#1c1c1c" stroke-width="0.18" >-0.4</text><line x1="52" y1="95.92" x2="54.6" y2="95.92" stroke="#3a3a3a" stroke-width="1" /><line x1="299" y1="95.92" x2="301.6" y2="95.92" stroke="#3a3a3a" stroke-width="1" /><text x="50.4" y="99.02" font-size="8.6" text-anchor="end" fill="#1c1c1c" stroke="#1c1c1c" stroke-width="0.18" >-0.2</text><line x1="52" y1="146.6" x2="54.6" y2="146.6" stroke="#3a3a3a" stroke-width="1" /><line x1="299" y1="146.6" x2="301.6" y2="146.6" stroke="#3a3a3a" stroke-width="1" /><text x="50.4" y="149.7" font-size="8.6" text-anchor="end" fill="#1c1c1c" stroke="#1c1c1c" stroke-width="0.18" >0.0</text><line x1="52" y1="197.28" x2="54.6" y2="197.28" stroke="#3a3a3a" stroke-width="1" /><line x1="299" y1="197.28" x2="301.6" y2="197.28" stroke="#3a3a3a" stroke-width="1" /><text x="50.4" y="200.38" font-size="8.6" text-anchor="end" fill="#1c1c1c" stroke="#1c1c1c" stroke-width="0.18" >0.2</text><line x1="54.6" y1="209.7" x2="54.6" y2="212.3" stroke="#3a3a3a" stroke-width="1" /><line x1="54.6" y1="45.3" x2="54.6" y2="47.9" stroke="#3a3a3a" stroke-width="1" /><text transform="translate(56.9,221.2) rotate(-45)" font-size="9" text-anchor="end" fill="#1c1c1c" stroke="#1c1c1c" stroke-width="0.18">-200</text><line x1="72.94" y1="209.7" x2="72.94" y2="212.3" stroke="#3a3a3a" stroke-width="1" /><line x1="72.94" y1="45.3" x2="72.94" y2="47.9" stroke="#3a3a3a" stroke-width="1" /><text transform="translate(75.24,221.2) rotate(-45)" font-size="9" text-anchor="end" fill="#1c1c1c" stroke="#1c1c1c" stroke-width="0.18">0</text><line x1="91.28" y1="209.7" x2="91.28" y2="212.3" stroke="#3a3a3a" stroke-width="1" /><line x1="91.28" y1="45.3" x2="91.28" y2="47.9" stroke="#3a3a3a" stroke-width="1" /><text transform="translate(93.58,221.2) rotate(-45)" font-size="9" text-anchor="end" fill="#1c1c1c" stroke="#1c1c1c" stroke-width="0.18">200</text><line x1="109.62" y1="209.7" x2="109.62" y2="212.3" stroke="#3a3a3a" stroke-width="1" /><line x1="109.62" y1="45.3" x2="109.62" y2="47.9" stroke="#3a3a3a" stroke-width="1" /><text transform="translate(111.92,221.2) rotate(-45)" font-size="9" text-anchor="end" fill="#1c1c1c" stroke="#1c1c1c" stroke-width="0.18">400</text><line x1="127.96" y1="209.7" x2="127.96" y2="212.3" stroke="#3a3a3a" stroke-width="1" /><line x1="127.96" y1="45.3" x2="127.96" y2="47.9" stroke="#3a3a3a" stroke-width="1" /><text transform="translate(130.26,221.2) rotate(-45)" font-size="9" text-anchor="end" fill="#1c1c1c" stroke="#1c1c1c" stroke-width="0.18">600</text><line x1="146.3" y1="209.7" x2="146.3" y2="212.3" stroke="#3a3a3a" stroke-width="1" /><line x1="146.3" y1="45.3" x2="146.3" y2="47.9" stroke="#3a3a3a" stroke-width="1" /><text transform="translate(148.6,221.2) rotate(-45)" font-size="9" text-anchor="end" fill="#1c1c1c" stroke="#1c1c1c" stroke-width="0.18">800</text><line x1="164.64" y1="209.7" x2="164.64" y2="212.3" stroke="#3a3a3a" stroke-width="1" /><line x1="164.64" y1="45.3" x2="164.64" y2="47.9" stroke="#3a3a3a" stroke-width="1" /><text transform="translate(166.94,221.2) rotate(-45)" font-size="9" text-anchor="end" fill="#1c1c1c" stroke="#1c1c1c" stroke-width="0.18">1000</text><line x1="182.98" y1="209.7" x2="182.98" y2="212.3" stroke="#3a3a3a" stroke-width="1" /><line x1="182.98" y1="45.3" x2="182.98" y2="47.9" stroke="#3a3a3a" stroke-width="1" /><text transform="translate(185.28,221.2) rotate(-45)" font-size="9" text-anchor="end" fill="#1c1c1c" stroke="#1c1c1c" stroke-width="0.18">1200</text><line x1="201.32" y1="209.7" x2="201.32" y2="212.3" stroke="#3a3a3a" stroke-width="1" /><line x1="201.32" y1="45.3" x2="201.32" y2="47.9" stroke="#3a3a3a" stroke-width="1" /><text transform="translate(203.62,221.2) rotate(-45)" font-size="9" text-anchor="end" fill="#1c1c1c" stroke="#1c1c1c" stroke-width="0.18">1400</text><line x1="219.66" y1="209.7" x2="219.66" y2="212.3" stroke="#3a3a3a" stroke-width="1" /><line x1="219.66" y1="45.3" x2="219.66" y2="47.9" stroke="#3a3a3a" stroke-width="1" /><text transform="translate(221.96,221.2) rotate(-45)" font-size="9" text-anchor="end" fill="#1c1c1c" stroke="#1c1c1c" stroke-width="0.18">1600</text><line x1="238" y1="209.7" x2="238" y2="212.3" stroke="#3a3a3a" stroke-width="1" /><line x1="238" y1="45.3" x2="238" y2="47.9" stroke="#3a3a3a" stroke-width="1" /><text transform="translate(240.3,221.2) rotate(-45)" font-size="9" text-anchor="end" fill="#1c1c1c" stroke="#1c1c1c" stroke-width="0.18">1800</text><line x1="256.34" y1="209.7" x2="256.34" y2="212.3" stroke="#3a3a3a" stroke-width="1" /><line x1="256.34" y1="45.3" x2="256.34" y2="47.9" stroke="#3a3a3a" stroke-width="1" /><text transform="translate(258.64,221.2) rotate(-45)" font-size="9" text-anchor="end" fill="#1c1c1c" stroke="#1c1c1c" stroke-width="0.18">2000</text><line x1="274.68" y1="209.7" x2="274.68" y2="212.3" stroke="#3a3a3a" stroke-width="1" /><line x1="274.68" y1="45.3" x2="274.68" y2="47.9" stroke="#3a3a3a" stroke-width="1" /><text transform="translate(276.98,221.2) rotate(-45)" font-size="9" text-anchor="end" fill="#1c1c1c" stroke="#1c1c1c" stroke-width="0.18">2200</text><line x1="293.02" y1="209.7" x2="293.02" y2="212.3" stroke="#3a3a3a" stroke-width="1" /><line x1="293.02" y1="45.3" x2="293.02" y2="47.9" stroke="#3a3a3a" stroke-width="1" /><text transform="translate(295.32,221.2) rotate(-45)" font-size="9" text-anchor="end" fill="#1c1c1c" stroke="#1c1c1c" stroke-width="0.18">2400</text><text x="178.3" y="253.1" font-size="10.6" text-anchor="middle" fill="#1c1c1c" stroke="#1c1c1c" stroke-width="0.18" >Time from retro-cue onset (ms)</text><text transform="translate(27.8,128.2) rotate(-90)" font-size="10.4" text-anchor="middle" fill="#1c1c1c" stroke="#1c1c1c" stroke-width="0.18">Lateralized alpha power (dB)</text><line x1="62.3" y1="53.4" x2="80" y2="53.4" stroke="#4a78b4" stroke-width="1.3" /><text x="89.7" y="56.7" font-size="9" text-anchor="start" fill="#1c1c1c" stroke="#1c1c1c" stroke-width="0.18" >Load 2</text><line x1="62.3" y1="66.57" x2="80" y2="66.57" stroke="#9dbcdf" stroke-width="1.2" /><text x="89.7" y="69.87" font-size="9" text-anchor="start" fill="#1c1c1c" stroke="#1c1c1c" stroke-width="0.18" >Load 4</text><line x1="62.3" y1="79.74" x2="80" y2="79.74" stroke="#eab2b6" stroke-width="1.3" /><text x="89.7" y="83.04" font-size="9" text-anchor="start" fill="#1c1c1c" stroke="#1c1c1c" stroke-width="0.18" >Load 6</text><line x1="62.3" y1="92.91" x2="80" y2="92.91" stroke="#c23640" stroke-width="1.7" /><text x="89.7" y="96.21" font-size="9" text-anchor="start" fill="#1c1c1c" stroke="#1c1c1c" stroke-width="0.18" >Load 8</text><line x1="243.4" y1="49.5" x2="243.4" y2="127" stroke="#3a3a3a" stroke-width="0.8"/><line x1="241.8" y1="56.3" x2="243.4" y2="56.3" stroke="#3a3a3a" stroke-width="0.7" /><text x="241" y="58.5" font-size="6.3" text-anchor="end" fill="#1c1c1c" stroke="#1c1c1c" stroke-width="0.18" style="stroke-width:0.15">0.6</text><line x1="241.8" y1="73.8" x2="243.4" y2="73.8" stroke="#3a3a3a" stroke-width="0.7" /><text x="241" y="76" font-size="6.3" text-anchor="end" fill="#1c1c1c" stroke="#1c1c1c" stroke-width="0.18" style="stroke-width:0.15">0.1</text><line x1="241.8" y1="91.3" x2="243.4" y2="91.3" stroke="#3a3a3a" stroke-width="0.7" /><text x="241" y="93.5" font-size="6.3" text-anchor="end" fill="#1c1c1c" stroke="#1c1c1c" stroke-width="0.18" style="stroke-width:0.15">-0.4</text><line x1="241.8" y1="108.8" x2="243.4" y2="108.8" stroke="#3a3a3a" stroke-width="0.7" /><text x="241" y="111" font-size="6.3" text-anchor="end" fill="#1c1c1c" stroke="#1c1c1c" stroke-width="0.18" style="stroke-width:0.15">-0.9</text><line x1="241.8" y1="126.3" x2="243.4" y2="126.3" stroke="#3a3a3a" stroke-width="0.7" /><text x="241" y="128.5" font-size="6.3" text-anchor="end" fill="#1c1c1c" stroke="#1c1c1c" stroke-width="0.18" style="stroke-width:0.15">-1.4</text><text transform="translate(226.6,87.6) rotate(-90)" font-size="6.3" text-anchor="middle" fill="#1c1c1c" stroke="#1c1c1c" stroke-width="0.15">Lateralized alpha power (dB)</text><rect x="247.3" y="77.3" width="7.7" height="3.5" fill="#4a78b4" stroke="#444" stroke-width="0.3"/><rect x="249.51" y="67.92" width="0.9" height="0.9" fill="#333"/><rect x="251.56" y="83.14" width="0.9" height="0.9" fill="#333"/><rect x="249.17" y="89" width="0.9" height="0.9" fill="#333"/><rect x="250.26" y="74.67" width="0.9" height="0.9" fill="#333"/><rect x="249.86" y="66.92" width="0.9" height="0.9" fill="#333"/><rect x="249.23" y="78.93" width="0.9" height="0.9" fill="#333"/><rect x="253.39" y="84.09" width="0.9" height="0.9" fill="#333"/><rect x="251.81" y="89.98" width="0.9" height="0.9" fill="#333"/><rect x="250.06" y="68" width="0.9" height="0.9" fill="#333"/><rect x="251.86" y="67.27" width="0.9" height="0.9" fill="#333"/><rect x="249.25" y="86.26" width="0.9" height="0.9" fill="#333"/><rect x="250.1" y="84.05" width="0.9" height="0.9" fill="#333"/><rect x="251.55" y="94.12" width="0.9" height="0.9" fill="#333"/><rect x="251.27" y="88.88" width="0.9" height="0.9" fill="#333"/><rect x="248.16" y="78.58" width="0.9" height="0.9" fill="#333"/><rect x="253.71" y="76.94" width="0.9" height="0.9" fill="#333"/><rect x="250.33" y="103.97" width="0.9" height="0.9" fill="#333"/><rect x="249.22" y="76.81" width="0.9" height="0.9" fill="#333"/><rect x="251.99" y="72.09" width="0.9" height="0.9" fill="#333"/><rect x="250.1" y="68.74" width="0.9" height="0.9" fill="#333"/><rect x="249.4" y="80.46" width="0.9" height="0.9" fill="#333"/><rect x="248" y="80.93" width="0.9" height="0.9" fill="#333"/><rect x="248.23" y="76.27" width="0.9" height="0.9" fill="#333"/><rect x="251.23" y="78.96" width="0.9" height="0.9" fill="#333"/><rect x="249.12" y="82.14" width="0.9" height="0.9" fill="#333"/><rect x="251.21" y="86.13" width="0.9" height="0.9" fill="#333"/><rect x="250.23" y="89.97" width="0.9" height="0.9" fill="#333"/><rect x="250.41" y="81.54" width="0.9" height="0.9" fill="#333"/><rect x="251.57" y="62.55" width="0.9" height="0.9" fill="#333"/><rect x="250.62" y="86.22" width="0.9" height="0.9" fill="#333"/><rect x="250.9" y="66.06" width="0.9" height="0.9" fill="#333"/><rect x="253.01" y="77.92" width="0.9" height="0.9" fill="#333"/><rect x="249.9" y="65.55" width="0.9" height="0.9" fill="#333"/><rect x="248.49" y="79.57" width="0.9" height="0.9" fill="#333"/><rect x="252.64" y="72.15" width="0.9" height="0.9" fill="#333"/><rect x="252.69" y="81.58" width="0.9" height="0.9" fill="#333"/><rect x="250.4" y="110.9" width="0.9" height="0.9" fill="#333"/><rect x="248.72" y="79.09" width="0.9" height="0.9" fill="#333"/><rect x="251.79" y="87.55" width="0.9" height="0.9" fill="#333"/><rect x="251.99" y="66.98" width="0.9" height="0.9" fill="#333"/><rect x="248.84" y="76.81" width="0.9" height="0.9" fill="#333"/><rect x="253.02" y="85.84" width="0.9" height="0.9" fill="#333"/><rect x="253.14" y="78.67" width="0.9" height="0.9" fill="#333"/><rect x="251.32" y="83.07" width="0.9" height="0.9" fill="#333"/><rect x="250.2" y="80.53" width="0.9" height="0.9" fill="#333"/><rect x="249.13" y="69.99" width="0.9" height="0.9" fill="#333"/><rect x="248.18" y="84.91" width="0.9" height="0.9" fill="#333"/><rect x="252.85" y="71.84" width="0.9" height="0.9" fill="#333"/><rect x="250.23" y="97.33" width="0.9" height="0.9" fill="#333"/><rect x="251.85" y="74.75" width="0.9" height="0.9" fill="#333"/><rect x="249.47" y="86.07" width="0.9" height="0.9" fill="#333"/><rect x="252.77" y="79.57" width="0.9" height="0.9" fill="#333"/><rect x="251.1" y="88.6" width="0.9" height="0.9" fill="#333"/><rect x="249.6" y="73.83" width="0.9" height="0.9" fill="#333"/><rect x="249.41" y="89.04" width="0.9" height="0.9" fill="#333"/><rect x="252.1" y="78.37" width="0.9" height="0.9" fill="#333"/><rect x="249.36" y="91.55" width="0.9" height="0.9" fill="#333"/><rect x="249.27" y="85.48" width="0.9" height="0.9" fill="#333"/><rect x="251.08" y="80.89" width="0.9" height="0.9" fill="#333"/><rect x="252.37" y="72.14" width="0.9" height="0.9" fill="#333"/><rect x="251.25" y="86.84" width="0.9" height="0.9" fill="#333"/><rect x="249.44" y="84" width="0.9" height="0.9" fill="#333"/><rect x="251.6" y="95.15" width="0.9" height="0.9" fill="#333"/><rect x="248.94" y="75.97" width="0.9" height="0.9" fill="#333"/><rect x="248.05" y="84.82" width="0.9" height="0.9" fill="#333"/><rect x="249.4" y="84.38" width="0.9" height="0.9" fill="#333"/><rect x="250.62" y="58.71" width="0.9" height="0.9" fill="#333"/><rect x="250.12" y="56.04" width="0.9" height="0.9" fill="#333"/><rect x="250.28" y="103.88" width="0.9" height="0.9" fill="#333"/><rect x="250.42" y="63.68" width="0.9" height="0.9" fill="#333"/><rect x="251" y="88.45" width="0.9" height="0.9" fill="#333"/><rect x="248.38" y="81.19" width="0.9" height="0.9" fill="#333"/><rect x="250.39" y="64.53" width="0.9" height="0.9" fill="#333"/><rect x="251.29" y="99.65" width="0.9" height="0.9" fill="#333"/><rect x="251.29" y="52.15" width="0.9" height="0.9" fill="#333"/><rect x="250.89" y="117.05" width="0.9" height="0.9" fill="#333"/><rect x="259.1" y="77.3" width="7.9" height="4.3" fill="#7f9fc7" stroke="#444" stroke-width="0.3"/><rect x="260.52" y="75.01" width="0.9" height="0.9" fill="#333"/><rect x="262.59" y="67.81" width="0.9" height="0.9" fill="#333"/><rect x="264.73" y="81.16" width="0.9" height="0.9" fill="#333"/><rect x="264.78" y="81.51" width="0.9" height="0.9" fill="#333"/><rect x="262.91" y="100.28" width="0.9" height="0.9" fill="#333"/><rect x="265.39" y="81.89" width="0.9" height="0.9" fill="#333"/><rect x="261.54" y="72.16" width="0.9" height="0.9" fill="#333"/><rect x="262" y="62.05" width="0.9" height="0.9" fill="#333"/><rect x="262.47" y="92.94" width="0.9" height="0.9" fill="#333"/><rect x="261.19" y="81.35" width="0.9" height="0.9" fill="#333"/><rect x="261.96" y="64.26" width="0.9" height="0.9" fill="#333"/><rect x="262.06" y="81.26" width="0.9" height="0.9" fill="#333"/><rect x="262.88" y="64.27" width="0.9" height="0.9" fill="#333"/><rect x="262.59" y="112.61" width="0.9" height="0.9" fill="#333"/><rect x="261.94" y="90.18" width="0.9" height="0.9" fill="#333"/><rect x="264.44" y="84.99" width="0.9" height="0.9" fill="#333"/><rect x="265.64" y="77.89" width="0.9" height="0.9" fill="#333"/><rect x="262.51" y="62.05" width="0.9" height="0.9" fill="#333"/><rect x="259.9" y="78.35" width="0.9" height="0.9" fill="#333"/><rect x="261.5" y="64.78" width="0.9" height="0.9" fill="#333"/><rect x="264.6" y="85.21" width="0.9" height="0.9" fill="#333"/><rect x="261.77" y="62.05" width="0.9" height="0.9" fill="#333"/><rect x="263.5" y="70.93" width="0.9" height="0.9" fill="#333"/><rect x="262.83" y="91.14" width="0.9" height="0.9" fill="#333"/><rect x="262.19" y="95.17" width="0.9" height="0.9" fill="#333"/><rect x="263.58" y="68.33" width="0.9" height="0.9" fill="#333"/><rect x="261.45" y="64.98" width="0.9" height="0.9" fill="#333"/><rect x="261" y="87.9" width="0.9" height="0.9" fill="#333"/><rect x="262.4" y="87.65" width="0.9" height="0.9" fill="#333"/><rect x="260.69" y="70.18" width="0.9" height="0.9" fill="#333"/><rect x="264.26" y="72.95" width="0.9" height="0.9" fill="#333"/><rect x="261.28" y="72.96" width="0.9" height="0.9" fill="#333"/><rect x="261.4" y="68.25" width="0.9" height="0.9" fill="#333"/><rect x="260.29" y="73.09" width="0.9" height="0.9" fill="#333"/><rect x="263.01" y="91.43" width="0.9" height="0.9" fill="#333"/><rect x="262.33" y="86.1" width="0.9" height="0.9" fill="#333"/><rect x="262.8" y="99.09" width="0.9" height="0.9" fill="#333"/><rect x="263.59" y="78.73" width="0.9" height="0.9" fill="#333"/><rect x="264.55" y="78.26" width="0.9" height="0.9" fill="#333"/><rect x="264.45" y="70.22" width="0.9" height="0.9" fill="#333"/><rect x="263.77" y="78.37" width="0.9" height="0.9" fill="#333"/><rect x="261.71" y="67.08" width="0.9" height="0.9" fill="#333"/><rect x="262.55" y="62.66" width="0.9" height="0.9" fill="#333"/><rect x="260.98" y="86.17" width="0.9" height="0.9" fill="#333"/><rect x="261.32" y="93.23" width="0.9" height="0.9" fill="#333"/><rect x="262.47" y="87.5" width="0.9" height="0.9" fill="#333"/><rect x="263.22" y="92.21" width="0.9" height="0.9" fill="#333"/><rect x="260.61" y="81.95" width="0.9" height="0.9" fill="#333"/><rect x="261.47" y="72.73" width="0.9" height="0.9" fill="#333"/><rect x="261.62" y="80.37" width="0.9" height="0.9" fill="#333"/><rect x="263.78" y="76" width="0.9" height="0.9" fill="#333"/><rect x="262.67" y="68.99" width="0.9" height="0.9" fill="#333"/><rect x="262.84" y="63.47" width="0.9" height="0.9" fill="#333"/><rect x="263.24" y="65.46" width="0.9" height="0.9" fill="#333"/><rect x="261.92" y="79.5" width="0.9" height="0.9" fill="#333"/><rect x="264.45" y="80.98" width="0.9" height="0.9" fill="#333"/><rect x="264.92" y="75.04" width="0.9" height="0.9" fill="#333"/><rect x="261.51" y="93.13" width="0.9" height="0.9" fill="#333"/><rect x="265.32" y="81.25" width="0.9" height="0.9" fill="#333"/><rect x="263.8" y="85.09" width="0.9" height="0.9" fill="#333"/><rect x="261.4" y="91.13" width="0.9" height="0.9" fill="#333"/><rect x="262.39" y="71.76" width="0.9" height="0.9" fill="#333"/><rect x="262.83" y="62.05" width="0.9" height="0.9" fill="#333"/><rect x="264.59" y="86.7" width="0.9" height="0.9" fill="#333"/><rect x="261.98" y="73.01" width="0.9" height="0.9" fill="#333"/><rect x="262.8" y="92" width="0.9" height="0.9" fill="#333"/><rect x="264.43" y="72.35" width="0.9" height="0.9" fill="#333"/><rect x="264.27" y="84.41" width="0.9" height="0.9" fill="#333"/><rect x="263.17" y="103.88" width="0.9" height="0.9" fill="#333"/><rect x="262.56" y="109.5" width="0.9" height="0.9" fill="#333"/><rect x="262.78" y="107.74" width="0.9" height="0.9" fill="#333"/><rect x="260.77" y="82" width="0.9" height="0.9" fill="#333"/><rect x="263.24" y="92.31" width="0.9" height="0.9" fill="#333"/><rect x="264.62" y="78.48" width="0.9" height="0.9" fill="#333"/><rect x="262.86" y="62.05" width="0.9" height="0.9" fill="#333"/><rect x="262.86" y="113.95" width="0.9" height="0.9" fill="#333"/><rect x="271.3" y="77.3" width="7.6" height="4.6" fill="#e9c3c6" stroke="#444" stroke-width="0.3"/><rect x="272.9" y="84.21" width="0.9" height="0.9" fill="#333"/><rect x="274.83" y="99.4" width="0.9" height="0.9" fill="#333"/><rect x="275.18" y="105.5" width="0.9" height="0.9" fill="#333"/><rect x="272.41" y="76.35" width="0.9" height="0.9" fill="#333"/><rect x="275.21" y="63.2" width="0.9" height="0.9" fill="#333"/><rect x="271.84" y="75.68" width="0.9" height="0.9" fill="#333"/><rect x="273.37" y="70.63" width="0.9" height="0.9" fill="#333"/><rect x="274.2" y="98.39" width="0.9" height="0.9" fill="#333"/><rect x="275.67" y="84.97" width="0.9" height="0.9" fill="#333"/><rect x="273.77" y="72.63" width="0.9" height="0.9" fill="#333"/><rect x="274.04" y="88.44" width="0.9" height="0.9" fill="#333"/><rect x="275.31" y="84.64" width="0.9" height="0.9" fill="#333"/><rect x="273.78" y="64.11" width="0.9" height="0.9" fill="#333"/><rect x="275.93" y="74.5" width="0.9" height="0.9" fill="#333"/><rect x="272.3" y="77.28" width="0.9" height="0.9" fill="#333"/><rect x="274.72" y="79.73" width="0.9" height="0.9" fill="#333"/><rect x="273.07" y="80.81" width="0.9" height="0.9" fill="#333"/><rect x="272.82" y="76.33" width="0.9" height="0.9" fill="#333"/><rect x="274.84" y="81.35" width="0.9" height="0.9" fill="#333"/><rect x="274.31" y="73.98" width="0.9" height="0.9" fill="#333"/><rect x="274.11" y="71.03" width="0.9" height="0.9" fill="#333"/><rect x="274.44" y="93.95" width="0.9" height="0.9" fill="#333"/><rect x="274.83" y="82.97" width="0.9" height="0.9" fill="#333"/><rect x="272.67" y="83.71" width="0.9" height="0.9" fill="#333"/><rect x="273.98" y="64.4" width="0.9" height="0.9" fill="#333"/><rect x="275.48" y="77.97" width="0.9" height="0.9" fill="#333"/><rect x="275.29" y="87.33" width="0.9" height="0.9" fill="#333"/><rect x="274.74" y="67.28" width="0.9" height="0.9" fill="#333"/><rect x="275.93" y="89.98" width="0.9" height="0.9" fill="#333"/><rect x="275.31" y="75.85" width="0.9" height="0.9" fill="#333"/><rect x="276.75" y="83.38" width="0.9" height="0.9" fill="#333"/><rect x="272.95" y="78.28" width="0.9" height="0.9" fill="#333"/><rect x="276.15" y="81.63" width="0.9" height="0.9" fill="#333"/><rect x="275.67" y="90.98" width="0.9" height="0.9" fill="#333"/><rect x="277.02" y="75.72" width="0.9" height="0.9" fill="#333"/><rect x="274.22" y="94.41" width="0.9" height="0.9" fill="#333"/><rect x="273.77" y="72.12" width="0.9" height="0.9" fill="#333"/><rect x="276.43" y="70.7" width="0.9" height="0.9" fill="#333"/><rect x="273.24" y="86.3" width="0.9" height="0.9" fill="#333"/><rect x="276.52" y="69.42" width="0.9" height="0.9" fill="#333"/><rect x="276.96" y="76.03" width="0.9" height="0.9" fill="#333"/><rect x="273.07" y="88.17" width="0.9" height="0.9" fill="#333"/><rect x="273.8" y="91.05" width="0.9" height="0.9" fill="#333"/><rect x="275.09" y="62.69" width="0.9" height="0.9" fill="#333"/><rect x="273.3" y="84.36" width="0.9" height="0.9" fill="#333"/><rect x="273.94" y="97.45" width="0.9" height="0.9" fill="#333"/><rect x="275.75" y="90.9" width="0.9" height="0.9" fill="#333"/><rect x="274.16" y="77.27" width="0.9" height="0.9" fill="#333"/><rect x="276.2" y="73.84" width="0.9" height="0.9" fill="#333"/><rect x="272.36" y="76.73" width="0.9" height="0.9" fill="#333"/><rect x="274.31" y="68.6" width="0.9" height="0.9" fill="#333"/><rect x="275.79" y="77.04" width="0.9" height="0.9" fill="#333"/><rect x="271.62" y="77.77" width="0.9" height="0.9" fill="#333"/><rect x="272.76" y="78.17" width="0.9" height="0.9" fill="#333"/><rect x="275.26" y="90.78" width="0.9" height="0.9" fill="#333"/><rect x="277.21" y="77.36" width="0.9" height="0.9" fill="#333"/><rect x="275.86" y="65.7" width="0.9" height="0.9" fill="#333"/><rect x="273.19" y="89.53" width="0.9" height="0.9" fill="#333"/><rect x="274.67" y="69.36" width="0.9" height="0.9" fill="#333"/><rect x="276.14" y="75.3" width="0.9" height="0.9" fill="#333"/><rect x="274.67" y="78.28" width="0.9" height="0.9" fill="#333"/><rect x="275.77" y="76.28" width="0.9" height="0.9" fill="#333"/><rect x="273.42" y="70.02" width="0.9" height="0.9" fill="#333"/><rect x="271.99" y="77.19" width="0.9" height="0.9" fill="#333"/><rect x="274.07" y="100.3" width="0.9" height="0.9" fill="#333"/><rect x="272.19" y="73.78" width="0.9" height="0.9" fill="#333"/><rect x="274.94" y="74.45" width="0.9" height="0.9" fill="#333"/><rect x="274.72" y="86.11" width="0.9" height="0.9" fill="#333"/><rect x="274.84" y="66.31" width="0.9" height="0.9" fill="#333"/><rect x="272.61" y="83.86" width="0.9" height="0.9" fill="#333"/><rect x="274.26" y="105.71" width="0.9" height="0.9" fill="#333"/><rect x="274.29" y="110.56" width="0.9" height="0.9" fill="#333"/><rect x="276.35" y="86.31" width="0.9" height="0.9" fill="#333"/><rect x="277.69" y="77.19" width="0.9" height="0.9" fill="#333"/><rect x="275.28" y="59.05" width="0.9" height="0.9" fill="#333"/><rect x="274.16" y="116.25" width="0.9" height="0.9" fill="#333"/><rect x="283.2" y="77.3" width="7.6" height="5.1" fill="#c23640" stroke="#444" stroke-width="0.3"/><rect x="286.62" y="101.17" width="0.9" height="0.9" fill="#333"/><rect x="286.58" y="88.42" width="0.9" height="0.9" fill="#333"/><rect x="287.55" y="63.85" width="0.9" height="0.9" fill="#333"/><rect x="286.95" y="83.37" width="0.9" height="0.9" fill="#333"/><rect x="289.32" y="74.6" width="0.9" height="0.9" fill="#333"/><rect x="287.1" y="88.99" width="0.9" height="0.9" fill="#333"/><rect x="287.72" y="69.52" width="0.9" height="0.9" fill="#333"/><rect x="283.85" y="78.58" width="0.9" height="0.9" fill="#333"/><rect x="287.17" y="78.3" width="0.9" height="0.9" fill="#333"/><rect x="288.2" y="78.63" width="0.9" height="0.9" fill="#333"/><rect x="284.09" y="74" width="0.9" height="0.9" fill="#333"/><rect x="287.39" y="62.85" width="0.9" height="0.9" fill="#333"/><rect x="284.59" y="83.92" width="0.9" height="0.9" fill="#333"/><rect x="286.44" y="89.04" width="0.9" height="0.9" fill="#333"/><rect x="284.44" y="78.9" width="0.9" height="0.9" fill="#333"/><rect x="286.53" y="69.89" width="0.9" height="0.9" fill="#333"/><rect x="287.25" y="81.48" width="0.9" height="0.9" fill="#333"/><rect x="284.14" y="84.92" width="0.9" height="0.9" fill="#333"/><rect x="289.36" y="77.88" width="0.9" height="0.9" fill="#333"/><rect x="286.04" y="79.42" width="0.9" height="0.9" fill="#333"/><rect x="286.62" y="92.93" width="0.9" height="0.9" fill="#333"/><rect x="286.9" y="68.92" width="0.9" height="0.9" fill="#333"/><rect x="285.81" y="74.25" width="0.9" height="0.9" fill="#333"/><rect x="286.13" y="62.85" width="0.9" height="0.9" fill="#333"/><rect x="287.33" y="72.9" width="0.9" height="0.9" fill="#333"/><rect x="286.85" y="72.52" width="0.9" height="0.9" fill="#333"/><rect x="285.66" y="70.43" width="0.9" height="0.9" fill="#333"/><rect x="287.64" y="72.96" width="0.9" height="0.9" fill="#333"/><rect x="286.17" y="96.62" width="0.9" height="0.9" fill="#333"/><rect x="283.5" y="77.68" width="0.9" height="0.9" fill="#333"/><rect x="284.93" y="78.46" width="0.9" height="0.9" fill="#333"/><rect x="285.89" y="100.43" width="0.9" height="0.9" fill="#333"/><rect x="284.36" y="78.97" width="0.9" height="0.9" fill="#333"/><rect x="287.06" y="63.08" width="0.9" height="0.9" fill="#333"/><rect x="285.9" y="83.38" width="0.9" height="0.9" fill="#333"/><rect x="288.22" y="70.65" width="0.9" height="0.9" fill="#333"/><rect x="287.09" y="95.12" width="0.9" height="0.9" fill="#333"/><rect x="285.13" y="67.71" width="0.9" height="0.9" fill="#333"/><rect x="289.19" y="74.04" width="0.9" height="0.9" fill="#333"/><rect x="287.54" y="64.29" width="0.9" height="0.9" fill="#333"/><rect x="283.83" y="80.48" width="0.9" height="0.9" fill="#333"/><rect x="288.14" y="69.9" width="0.9" height="0.9" fill="#333"/><rect x="286.1" y="78.93" width="0.9" height="0.9" fill="#333"/><rect x="286.42" y="75.97" width="0.9" height="0.9" fill="#333"/><rect x="289.06" y="73.73" width="0.9" height="0.9" fill="#333"/><rect x="285.48" y="88.51" width="0.9" height="0.9" fill="#333"/><rect x="286.65" y="88.44" width="0.9" height="0.9" fill="#333"/><rect x="289.34" y="80.14" width="0.9" height="0.9" fill="#333"/><rect x="287.51" y="71" width="0.9" height="0.9" fill="#333"/><rect x="286.43" y="69.38" width="0.9" height="0.9" fill="#333"/><rect x="289.5" y="82.11" width="0.9" height="0.9" fill="#333"/><rect x="286.98" y="102.26" width="0.9" height="0.9" fill="#333"/><rect x="287.15" y="75.21" width="0.9" height="0.9" fill="#333"/><rect x="284.73" y="72.1" width="0.9" height="0.9" fill="#333"/><rect x="287.18" y="72.92" width="0.9" height="0.9" fill="#333"/><rect x="286.39" y="69.14" width="0.9" height="0.9" fill="#333"/><rect x="285.34" y="70.31" width="0.9" height="0.9" fill="#333"/><rect x="283.74" y="77.6" width="0.9" height="0.9" fill="#333"/><rect x="286.62" y="93.17" width="0.9" height="0.9" fill="#333"/><rect x="284.15" y="79.54" width="0.9" height="0.9" fill="#333"/><rect x="286.23" y="74.7" width="0.9" height="0.9" fill="#333"/><rect x="286.92" y="64.21" width="0.9" height="0.9" fill="#333"/><rect x="286.27" y="81.58" width="0.9" height="0.9" fill="#333"/><rect x="285.03" y="79.3" width="0.9" height="0.9" fill="#333"/><rect x="286.82" y="67.9" width="0.9" height="0.9" fill="#333"/><rect x="286.25" y="69.23" width="0.9" height="0.9" fill="#333"/><rect x="288.29" y="77.53" width="0.9" height="0.9" fill="#333"/><rect x="286.71" y="85.82" width="0.9" height="0.9" fill="#333"/><rect x="287.83" y="65.74" width="0.9" height="0.9" fill="#333"/><rect x="289" y="74.03" width="0.9" height="0.9" fill="#333"/><rect x="287.87" y="84.34" width="0.9" height="0.9" fill="#333"/><rect x="285.66" y="68.48" width="0.9" height="0.9" fill="#333"/><rect x="284.15" y="77.2" width="0.9" height="0.9" fill="#333"/><rect x="287.02" y="114.65" width="0.9" height="0.9" fill="#333"/><rect x="287.1" y="62.85" width="0.9" height="0.9" fill="#333"/><rect x="286.7" y="120.05" width="0.9" height="0.9" fill="#333"/><line x1="243.4" y1="77.3" x2="294.7" y2="77.3" stroke="#222" stroke-width="0.8"/><text x="0.6" y="37.5" font-size="14" text-anchor="start" fill="#111" stroke="#111" stroke-width="0.18" style="stroke-width:0.2">A</text><rect x="427" y="31.4" width="18.6" height="19.3" fill="#4c72b0" fill-opacity="0.3" stroke="#777" stroke-opacity="0.45" stroke-width="0.6"/><rect x="445.6" y="47" width="18.6" height="3.7" fill="#4c72b0" fill-opacity="0.3" stroke="#777" stroke-opacity="0.45" stroke-width="0.6"/><rect x="464.2" y="28" width="18.8" height="22.7" fill="#4c72b0" fill-opacity="0.3" stroke="#777" stroke-opacity="0.45" stroke-width="0.6"/><rect x="483" y="16" width="18.4" height="34.7" fill="#4c72b0" fill-opacity="0.3" stroke="#777" stroke-opacity="0.45" stroke-width="0.6"/><rect x="501.4" y="9" width="18.8" height="41.7" fill="#4c72b0" fill-opacity="0.3" stroke="#777" stroke-opacity="0.45" stroke-width="0.6"/><rect x="520.2" y="1.2" width="19" height="49.5" fill="#4c72b0" fill-opacity="0.3" stroke="#777" stroke-opacity="0.45" stroke-width="0.6"/><rect x="539.2" y="28" width="18.4" height="22.7" fill="#4c72b0" fill-opacity="0.3" stroke="#777" stroke-opacity="0.45" stroke-width="0.6"/><rect x="557.6" y="43" width="18.8" height="7.7" fill="#4c72b0" fill-opacity="0.3" stroke="#777" stroke-opacity="0.45" stroke-width="0.6"/><rect x="576.4" y="43" width="18.8" height="7.7" fill="#4c72b0" fill-opacity="0.3" stroke="#777" stroke-opacity="0.45" stroke-width="0.6"/><rect x="595.2" y="47.2" width="18.8" height="3.5" fill="#4c72b0" fill-opacity="0.3" stroke="#777" stroke-opacity="0.45" stroke-width="0.6"/><rect x="632.6" y="64.8" width="9.1" height="15.2" fill="#4c72b0" fill-opacity="0.3" stroke="#777" stroke-opacity="0.45" stroke-width="0.6"/><rect x="632.6" y="80" width="30.1" height="15.3" fill="#4c72b0" fill-opacity="0.3" stroke="#777" stroke-opacity="0.45" stroke-width="0.6"/><rect x="632.6" y="95.3" width="47.2" height="15.7" fill="#4c72b0" fill-opacity="0.3" stroke="#777" stroke-opacity="0.45" stroke-width="0.6"/><rect x="632.6" y="111" width="43" height="15.5" fill="#4c72b0" fill-opacity="0.3" stroke="#777" stroke-opacity="0.45" stroke-width="0.6"/><rect x="632.6" y="126.5" width="43" height="16" fill="#4c72b0" fill-opacity="0.3" stroke="#777" stroke-opacity="0.45" stroke-width="0.6"/><rect x="632.6" y="142.5" width="39.2" height="15.1" fill="#4c72b0" fill-opacity="0.3" stroke="#777" stroke-opacity="0.45" stroke-width="0.6"/><rect x="632.6" y="157.6" width="13.1" height="15.8" fill="#4c72b0" fill-opacity="0.3" stroke="#777" stroke-opacity="0.45" stroke-width="0.6"/><rect x="632.6" y="173.4" width="9.1" height="15.5" fill="#4c72b0" fill-opacity="0.3" stroke="#777" stroke-opacity="0.45" stroke-width="0.6"/><rect x="632.6" y="188.9" width="9.1" height="15.5" fill="#4c72b0" fill-opacity="0.3" stroke="#777" stroke-opacity="0.45" stroke-width="0.6"/><path d="M408.6,49.4 C411.67,48.93 420.83,48.08 427,46.6 C433.17,45.12 439.43,43.18 445.6,40.5 C451.77,37.82 457.77,33.87 464,30.5 C470.23,27.13 476.77,23.28 483,20.3 C489.23,17.32 496.73,14.2 501.4,12.6 C506.07,11 507.87,10.8 511,10.7 C514.13,10.6 515.5,10.4 520.2,12 C524.9,13.6 532.9,17.3 539.2,20.3 C545.5,23.3 551.8,26.88 558,30 C564.2,33.12 570.2,36.25 576.4,39 C582.6,41.75 588.93,44.8 595.2,46.5 C601.47,48.2 607.8,48.53 614,49.2 C620.2,49.87 629.33,50.28 632.4,50.5" fill="none" stroke="#4c72b0" stroke-width="1"/><path d="M633.3,50.8 C633.83,52.5 635,57.4 636.5,61 C638,64.6 639.75,68.58 642.3,72.4 C644.85,76.22 648.32,80.08 651.8,83.9 C655.28,87.72 659.7,91.8 663.2,95.3 C666.7,98.8 669.93,101.72 672.8,104.9 C675.67,108.08 678.5,111.13 680.4,114.4 C682.3,117.67 683.72,121.32 684.2,124.5 C684.68,127.68 683.77,131.58 683.3,133.5 C682.83,135.42 682.83,134.12 681.4,136 C679.97,137.88 677.4,141.73 674.7,144.8 C672,147.87 668.38,151.22 665.2,154.4 C662.02,157.58 658.78,160.73 655.6,163.9 C652.42,167.07 648.65,170.53 646.1,173.4 C643.55,176.27 641.9,178.23 640.3,181.1 C638.7,183.97 637.52,187.42 636.5,190.6 C635.48,193.78 634.77,196.7 634.2,200.2 C633.63,203.7 633.33,207.88 633.1,211.6 C632.87,215.32 632.85,220.68 632.8,222.5" fill="none" stroke="#4c72b0" stroke-width="1"/><circle cx="466.6" cy="74.7" r="5.35" fill="#5274b6" fill-opacity="0.5"/><circle cx="511.1" cy="72.7" r="5.35" fill="#5274b6" fill-opacity="0.5"/><circle cx="440.9" cy="84.7" r="5.35" fill="#5274b6" fill-opacity="0.5"/><circle cx="539.3" cy="82.2" r="5.35" fill="#5274b6" fill-opacity="0.5"/><circle cx="430.5" cy="95.8" r="5.35" fill="#5274b6" fill-opacity="0.5"/><circle cx="469" cy="94" r="5.35" fill="#5274b6" fill-opacity="0.5"/><circle cx="486.4" cy="95.5" r="5.35" fill="#5274b6" fill-opacity="0.5"/><circle cx="507.7" cy="96.7" r="5.35" fill="#5274b6" fill-opacity="0.5"/><circle cx="506.3" cy="99.6" r="5.35" fill="#5274b6" fill-opacity="0.5"/><circle cx="517.1" cy="92" r="5.35" fill="#5274b6" fill-opacity="0.5"/><circle cx="519.7" cy="94.3" r="5.35" fill="#5274b6" fill-opacity="0.5"/><circle cx="533.5" cy="91.1" r="5.35" fill="#5274b6" fill-opacity="0.5"/><circle cx="549.7" cy="99" r="5.35" fill="#5274b6" fill-opacity="0.5"/><circle cx="437.2" cy="108.4" r="5.35" fill="#5274b6" fill-opacity="0.5"/><circle cx="438.6" cy="115.1" r="5.35" fill="#5274b6" fill-opacity="0.5"/><circle cx="453.7" cy="109.1" r="5.35" fill="#5274b6" fill-opacity="0.5"/><circle cx="476" cy="110.4" r="5.35" fill="#5274b6" fill-opacity="0.5"/><circle cx="492.3" cy="108.9" r="5.35" fill="#5274b6" fill-opacity="0.5"/><circle cx="497.2" cy="115.6" r="5.35" fill="#5274b6" fill-opacity="0.5"/><circle cx="519.1" cy="105.4" r="5.35" fill="#5274b6" fill-opacity="0.5"/><circle cx="529.6" cy="104.9" r="5.35" fill="#5274b6" fill-opacity="0.5"/><circle cx="534.3" cy="106" r="5.35" fill="#5274b6" fill-opacity="0.5"/><circle cx="528.8" cy="114.2" r="5.35" fill="#5274b6" fill-opacity="0.5"/><circle cx="548.6" cy="116" r="5.35" fill="#5274b6" fill-opacity="0.5"/><circle cx="429.3" cy="123" r="5.35" fill="#5274b6" fill-opacity="0.5"/><circle cx="471.3" cy="125.5" r="5.35" fill="#5274b6" fill-opacity="0.5"/><circle cx="474.7" cy="130.6" r="5.35" fill="#5274b6" fill-opacity="0.5"/><circle cx="498.1" cy="132.9" r="5.35" fill="#5274b6" fill-opacity="0.5"/><circle cx="533.4" cy="121.8" r="5.35" fill="#5274b6" fill-opacity="0.5"/><circle cx="515" cy="125.3" r="5.35" fill="#5274b6" fill-opacity="0.5"/><circle cx="519.7" cy="124.7" r="5.35" fill="#5274b6" fill-opacity="0.5"/><circle cx="511" cy="130" r="5.35" fill="#5274b6" fill-opacity="0.5"/><circle cx="515" cy="134" r="5.35" fill="#5274b6" fill-opacity="0.5"/><circle cx="522.6" cy="129.4" r="5.35" fill="#5274b6" fill-opacity="0.5"/><circle cx="533.1" cy="132.3" r="5.35" fill="#5274b6" fill-opacity="0.5"/><circle cx="527.9" cy="134.6" r="5.35" fill="#5274b6" fill-opacity="0.5"/><circle cx="551.8" cy="138.1" r="5.35" fill="#5274b6" fill-opacity="0.5"/><circle cx="588.4" cy="122.2" r="5.35" fill="#5274b6" fill-opacity="0.5"/><circle cx="588.4" cy="140.3" r="5.35" fill="#5274b6" fill-opacity="0.5"/><circle cx="612.9" cy="138.5" r="5.35" fill="#5274b6" fill-opacity="0.5"/><circle cx="466.8" cy="142.3" r="5.35" fill="#5274b6" fill-opacity="0.5"/><circle cx="483.5" cy="142.8" r="5.35" fill="#5274b6" fill-opacity="0.5"/><circle cx="494" cy="142.8" r="5.35" fill="#5274b6" fill-opacity="0.5"/><circle cx="487.3" cy="151" r="5.35" fill="#5274b6" fill-opacity="0.5"/><circle cx="489.8" cy="155.2" r="5.35" fill="#5274b6" fill-opacity="0.5"/><circle cx="515.8" cy="151.6" r="5.35" fill="#5274b6" fill-opacity="0.5"/><circle cx="527.9" cy="142.8" r="5.35" fill="#5274b6" fill-opacity="0.5"/><circle cx="558.8" cy="156.9" r="5.35" fill="#5274b6" fill-opacity="0.5"/><circle cx="534.4" cy="162.4" r="5.35" fill="#5274b6" fill-opacity="0.5"/><circle cx="540.3" cy="162.2" r="5.35" fill="#5274b6" fill-opacity="0.5"/><circle cx="536.6" cy="167.8" r="5.35" fill="#5274b6" fill-opacity="0.5"/><circle cx="529.9" cy="184.6" r="5.35" fill="#5274b6" fill-opacity="0.5"/><circle cx="548.7" cy="184.6" r="5.35" fill="#5274b6" fill-opacity="0.5"/><circle cx="567.1" cy="188.8" r="5.35" fill="#5274b6" fill-opacity="0.5"/><circle cx="531.9" cy="196.3" r="5.35" fill="#5274b6" fill-opacity="0.5"/><line x1="429.3" y1="105.5" x2="613.1" y2="151.9" stroke="#4c72b0" stroke-width="1.1" /><line x1="408.6" y1="50.7" x2="632.6" y2="50.7" stroke="#8a8a8a" stroke-width="1.2" /><line x1="632.6" y1="50.2" x2="632.6" y2="222.5" stroke="#3a3a3a" stroke-width="1" /><line x1="408.6" y1="222.5" x2="632.6" y2="222.5" stroke="#3a3a3a" stroke-width="1" /><line x1="408.6" y1="50.7" x2="408.6" y2="223" stroke="#3a3a3a" stroke-width="1" /><line x1="405.2" y1="64.6" x2="408.6" y2="64.6" stroke="#666" stroke-width="0.9" /><text x="403.4" y="68.1" font-size="9.5" text-anchor="end" fill="#1c1c1c" stroke="#1c1c1c" stroke-width="0.18" >0.3</text><line x1="405.2" y1="111.1" x2="408.6" y2="111.1" stroke="#666" stroke-width="0.9" /><text x="403.4" y="114.6" font-size="9.5" text-anchor="end" fill="#1c1c1c" stroke="#1c1c1c" stroke-width="0.18" >0.0</text><line x1="405.2" y1="157.6" x2="408.6" y2="157.6" stroke="#666" stroke-width="0.9" /><text x="403.4" y="161.1" font-size="9.5" text-anchor="end" fill="#1c1c1c" stroke="#1c1c1c" stroke-width="0.18" >−0.3</text><line x1="405.2" y1="204.1" x2="408.6" y2="204.1" stroke="#666" stroke-width="0.9" /><text x="403.4" y="207.6" font-size="9.5" text-anchor="end" fill="#1c1c1c" stroke="#1c1c1c" stroke-width="0.18" >−0.6</text><line x1="408.6" y1="222.5" x2="408.6" y2="225.9" stroke="#444" stroke-width="0.9" /><text x="408.6" y="235.7" font-size="9.5" text-anchor="middle" fill="#1c1c1c" stroke="#1c1c1c" stroke-width="0.18" >0.7</text><line x1="501.6" y1="222.5" x2="501.6" y2="225.9" stroke="#444" stroke-width="0.9" /><text x="501.6" y="235.7" font-size="9.5" text-anchor="middle" fill="#1c1c1c" stroke="#1c1c1c" stroke-width="0.18" >0.8</text><line x1="595.2" y1="222.5" x2="595.2" y2="225.9" stroke="#444" stroke-width="0.9" /><text x="595.2" y="235.7" font-size="9.5" text-anchor="middle" fill="#1c1c1c" stroke="#1c1c1c" stroke-width="0.18" >0.9</text><text x="520.5" y="250.9" font-size="9.9" text-anchor="middle" fill="#1c1c1c" stroke="#1c1c1c" stroke-width="0.18" >Behavioral accuracy</text><text transform="translate(381,136.5) rotate(-90)" font-size="9.9" text-anchor="middle" fill="#1c1c1c" stroke="#1c1c1c" stroke-width="0.18">Lateralized alpha power (dB)</text><text x="581.3" y="200.7" font-size="9.6" text-anchor="start" fill="#1c1c1c" stroke="#1c1c1c" stroke-width="0.18" ><tspan font-style="italic">r</tspan> = -0.341</text><text x="581.3" y="212.1" font-size="9.6" text-anchor="start" fill="#1c1c1c" stroke="#1c1c1c" stroke-width="0.18" ><tspan font-style="italic">p</tspan> &lt; 0.01</text><text x="350.1" y="36.9" font-size="13.8" text-anchor="start" fill="#111" stroke="#111" stroke-width="0.18" style="stroke-width:0.2">B</text><rect x="74" y="303.6" width="21" height="15.6" fill="#4c72b0" fill-opacity="0.3" stroke="#777" stroke-opacity="0.45" stroke-width="0.6"/><rect x="95" y="311" width="20.6" height="8.2" fill="#4c72b0" fill-opacity="0.3" stroke="#777" stroke-opacity="0.45" stroke-width="0.6"/><rect x="115.6" y="315.2" width="20.8" height="4" fill="#4c72b0" fill-opacity="0.3" stroke="#777" stroke-opacity="0.45" stroke-width="0.6"/><rect x="136.4" y="288" width="21" height="31.2" fill="#4c72b0" fill-opacity="0.3" stroke="#777" stroke-opacity="0.45" stroke-width="0.6"/><rect x="157.4" y="276.6" width="20.6" height="42.6" fill="#4c72b0" fill-opacity="0.3" stroke="#777" stroke-opacity="0.45" stroke-width="0.6"/><rect x="178" y="280.4" width="20.4" height="38.8" fill="#4c72b0" fill-opacity="0.3" stroke="#777" stroke-opacity="0.45" stroke-width="0.6"/><rect x="198.4" y="273" width="21.2" height="46.2" fill="#4c72b0" fill-opacity="0.3" stroke="#777" stroke-opacity="0.45" stroke-width="0.6"/><rect x="219.6" y="296" width="20.8" height="23.2" fill="#4c72b0" fill-opacity="0.3" stroke="#777" stroke-opacity="0.45" stroke-width="0.6"/><rect x="240.4" y="311" width="20.6" height="8.2" fill="#4c72b0" fill-opacity="0.3" stroke="#777" stroke-opacity="0.45" stroke-width="0.6"/><rect x="279.8" y="319.2" width="2.9" height="26.1" fill="#4c72b0" fill-opacity="0.3" stroke="#777" stroke-opacity="0.45" stroke-width="0.6"/><rect x="279.8" y="345.3" width="9" height="26.6" fill="#4c72b0" fill-opacity="0.3" stroke="#777" stroke-opacity="0.45" stroke-width="0.6"/><rect x="279.8" y="371.9" width="45" height="26.4" fill="#4c72b0" fill-opacity="0.3" stroke="#777" stroke-opacity="0.45" stroke-width="0.6"/><rect x="279.8" y="398.3" width="69.5" height="26.2" fill="#4c72b0" fill-opacity="0.3" stroke="#777" stroke-opacity="0.45" stroke-width="0.6"/><rect x="279.8" y="424.5" width="33.2" height="26.9" fill="#4c72b0" fill-opacity="0.3" stroke="#777" stroke-opacity="0.45" stroke-width="0.6"/><rect x="279.8" y="451.4" width="9.1" height="26.2" fill="#4c72b0" fill-opacity="0.3" stroke="#777" stroke-opacity="0.45" stroke-width="0.6"/><path d="M54,318.6 C57.33,318.33 67.17,317.83 74,317 C80.83,316.17 88,315.52 95,313.6 C102,311.68 109.17,308.83 116,305.5 C122.83,302.17 129.1,297.68 136,293.6 C142.9,289.52 150.57,284.03 157.4,281 C164.23,277.97 170.23,275.4 177,275.4 C183.77,275.4 190.9,278.07 198,281 C205.1,283.93 212.53,289 219.6,293 C226.67,297 233.5,301.5 240.4,305 C247.3,308.5 254.47,311.97 261,314 C267.53,316.03 276.5,316.67 279.6,317.2" fill="none" stroke="#4c72b0" stroke-width="1"/><path d="M280,319.2 C280.17,321.17 279.78,324.83 281,331 C282.22,337.17 283.8,349.55 287.3,356.2 C290.8,362.85 296.05,366.53 302,370.9 C307.95,375.27 316.78,379.05 323,382.4 C329.22,385.75 335.05,388.23 339.3,391 C343.55,393.77 346.48,396.28 348.5,399 C350.52,401.72 351.48,404.8 351.4,407.3 C351.32,409.8 349.82,411.72 348,414 C346.18,416.28 344.75,417.92 340.5,421 C336.25,424.08 329,428.5 322.5,432.5 C316,436.5 307.1,440.82 301.5,445 C295.9,449.18 292.05,453.4 288.9,457.6 C285.75,461.8 284.15,464.97 282.6,470.2 C281.05,475.43 280.1,485.87 279.6,489" fill="none" stroke="#4c72b0" stroke-width="1"/><circle cx="95" cy="335.6" r="5.35" fill="#5274b6" fill-opacity="0.5"/><circle cx="100" cy="369.2" r="5.35" fill="#5274b6" fill-opacity="0.5"/><circle cx="84.4" cy="384.3" r="5.35" fill="#5274b6" fill-opacity="0.5"/><circle cx="94" cy="385.1" r="5.35" fill="#5274b6" fill-opacity="0.5"/><circle cx="100" cy="384" r="5.35" fill="#5274b6" fill-opacity="0.5"/><circle cx="129.7" cy="384.3" r="5.35" fill="#5274b6" fill-opacity="0.5"/><circle cx="156.9" cy="360.5" r="5.35" fill="#5274b6" fill-opacity="0.5"/><circle cx="182.7" cy="367" r="5.35" fill="#5274b6" fill-opacity="0.5"/><circle cx="78.2" cy="404" r="5.35" fill="#5274b6" fill-opacity="0.5"/><circle cx="139.8" cy="396" r="5.35" fill="#5274b6" fill-opacity="0.5"/><circle cx="137.3" cy="402.3" r="5.35" fill="#5274b6" fill-opacity="0.5"/><circle cx="156.4" cy="397.9" r="5.35" fill="#5274b6" fill-opacity="0.5"/><circle cx="162" cy="388.6" r="5.35" fill="#5274b6" fill-opacity="0.5"/><circle cx="168.6" cy="391.4" r="5.35" fill="#5274b6" fill-opacity="0.5"/><circle cx="155.3" cy="405" r="5.35" fill="#5274b6" fill-opacity="0.5"/><circle cx="159.2" cy="405.6" r="5.35" fill="#5274b6" fill-opacity="0.5"/><circle cx="169.6" cy="409.1" r="5.35" fill="#5274b6" fill-opacity="0.5"/><circle cx="178.6" cy="402.3" r="5.35" fill="#5274b6" fill-opacity="0.5"/><circle cx="184.4" cy="402.8" r="5.35" fill="#5274b6" fill-opacity="0.5"/><circle cx="192" cy="395" r="5.35" fill="#5274b6" fill-opacity="0.5"/><circle cx="205.6" cy="384.9" r="5.35" fill="#5274b6" fill-opacity="0.5"/><circle cx="201.1" cy="389.9" r="5.35" fill="#5274b6" fill-opacity="0.5"/><circle cx="219.4" cy="381.9" r="5.35" fill="#5274b6" fill-opacity="0.5"/><circle cx="221.3" cy="383.2" r="5.35" fill="#5274b6" fill-opacity="0.5"/><circle cx="214.7" cy="389.7" r="5.35" fill="#5274b6" fill-opacity="0.5"/><circle cx="222" cy="390.9" r="5.35" fill="#5274b6" fill-opacity="0.5"/><circle cx="209.8" cy="396.6" r="5.35" fill="#5274b6" fill-opacity="0.5"/><circle cx="219" cy="399.5" r="5.35" fill="#5274b6" fill-opacity="0.5"/><circle cx="204.3" cy="402.4" r="5.35" fill="#5274b6" fill-opacity="0.5"/><circle cx="194.4" cy="407.7" r="5.35" fill="#5274b6" fill-opacity="0.5"/><circle cx="201.2" cy="406.3" r="5.35" fill="#5274b6" fill-opacity="0.5"/><circle cx="217.8" cy="405.9" r="5.35" fill="#5274b6" fill-opacity="0.5"/><circle cx="214" cy="411.4" r="5.35" fill="#5274b6" fill-opacity="0.5"/><circle cx="180.7" cy="414.5" r="5.35" fill="#5274b6" fill-opacity="0.5"/><circle cx="168.2" cy="416.5" r="5.35" fill="#5274b6" fill-opacity="0.5"/><circle cx="173" cy="419" r="5.35" fill="#5274b6" fill-opacity="0.5"/><circle cx="154.4" cy="418.7" r="5.35" fill="#5274b6" fill-opacity="0.5"/><circle cx="179.9" cy="423.5" r="5.35" fill="#5274b6" fill-opacity="0.5"/><circle cx="172.7" cy="426.3" r="5.35" fill="#5274b6" fill-opacity="0.5"/><circle cx="162.7" cy="427.3" r="5.35" fill="#5274b6" fill-opacity="0.5"/><circle cx="156.7" cy="426.6" r="5.35" fill="#5274b6" fill-opacity="0.5"/><circle cx="225.4" cy="421.8" r="5.35" fill="#5274b6" fill-opacity="0.5"/><circle cx="199.5" cy="428.7" r="5.35" fill="#5274b6" fill-opacity="0.5"/><circle cx="207.1" cy="433.2" r="5.35" fill="#5274b6" fill-opacity="0.5"/><circle cx="247.6" cy="400.9" r="5.35" fill="#5274b6" fill-opacity="0.5"/><circle cx="237.6" cy="407.6" r="5.35" fill="#5274b6" fill-opacity="0.5"/><circle cx="145" cy="431.4" r="5.35" fill="#5274b6" fill-opacity="0.5"/><circle cx="155.3" cy="441.7" r="5.35" fill="#5274b6" fill-opacity="0.5"/><circle cx="184.1" cy="448.8" r="5.35" fill="#5274b6" fill-opacity="0.5"/><circle cx="192.7" cy="453.1" r="5.35" fill="#5274b6" fill-opacity="0.5"/><circle cx="202.2" cy="454" r="5.35" fill="#5274b6" fill-opacity="0.5"/><circle cx="193.4" cy="471.5" r="5.35" fill="#5274b6" fill-opacity="0.5"/><circle cx="234.3" cy="442.4" r="5.35" fill="#5274b6" fill-opacity="0.5"/><circle cx="250.2" cy="431.1" r="5.35" fill="#5274b6" fill-opacity="0.5"/><line x1="78.2" y1="387.7" x2="250.6" y2="421.4" stroke="#4c72b0" stroke-width="1.1" /><line x1="53.6" y1="319.2" x2="279.8" y2="319.2" stroke="#3a3a3a" stroke-width="1" /><line x1="279.8" y1="318.7" x2="279.8" y2="492.2" stroke="#3a3a3a" stroke-width="1" /><line x1="53.6" y1="492.2" x2="279.8" y2="492.2" stroke="#3a3a3a" stroke-width="1" /><line x1="53.6" y1="319.2" x2="53.6" y2="492.7" stroke="#3a3a3a" stroke-width="1" /><line x1="50.2" y1="332.4" x2="53.6" y2="332.4" stroke="#666" stroke-width="0.9" /><text x="48.4" y="335.1" font-size="9.5" text-anchor="end" fill="#1c1c1c" stroke="#1c1c1c" stroke-width="0.18" >0.9</text><line x1="50.2" y1="371.9" x2="53.6" y2="371.9" stroke="#666" stroke-width="0.9" /><text x="48.4" y="374.6" font-size="9.5" text-anchor="end" fill="#1c1c1c" stroke="#1c1c1c" stroke-width="0.18" >0.6</text><line x1="50.2" y1="411.4" x2="53.6" y2="411.4" stroke="#666" stroke-width="0.9" /><text x="48.4" y="414.1" font-size="9.5" text-anchor="end" fill="#1c1c1c" stroke="#1c1c1c" stroke-width="0.18" >0.3</text><line x1="50.2" y1="451" x2="53.6" y2="451" stroke="#666" stroke-width="0.9" /><text x="48.4" y="453.7" font-size="9.5" text-anchor="end" fill="#1c1c1c" stroke="#1c1c1c" stroke-width="0.18" >0.0</text><line x1="50.2" y1="490.5" x2="53.6" y2="490.5" stroke="#666" stroke-width="0.9" /><text x="48.4" y="493.2" font-size="9.5" text-anchor="end" fill="#1c1c1c" stroke="#1c1c1c" stroke-width="0.18" >−0.3</text><line x1="74.2" y1="492.2" x2="74.2" y2="495.6" stroke="#444" stroke-width="0.9" /><text x="74.2" y="504.6" font-size="9.5" text-anchor="middle" fill="#1c1c1c" stroke="#1c1c1c" stroke-width="0.18" >−0.6</text><line x1="136.6" y1="492.2" x2="136.6" y2="495.6" stroke="#444" stroke-width="0.9" /><text x="136.6" y="504.6" font-size="9.5" text-anchor="middle" fill="#1c1c1c" stroke="#1c1c1c" stroke-width="0.18" >−0.3</text><line x1="199" y1="492.2" x2="199" y2="495.6" stroke="#444" stroke-width="0.9" /><text x="199" y="504.6" font-size="9.5" text-anchor="middle" fill="#1c1c1c" stroke="#1c1c1c" stroke-width="0.18" >0.0</text><line x1="261.4" y1="492.2" x2="261.4" y2="495.6" stroke="#444" stroke-width="0.9" /><text x="261.4" y="504.6" font-size="9.5" text-anchor="middle" fill="#1c1c1c" stroke="#1c1c1c" stroke-width="0.18" >0.3</text><text x="166.6" y="520.6" font-size="9.9" text-anchor="middle" fill="#1c1c1c" stroke="#1c1c1c" stroke-width="0.18" >Lateralized alpha power (dB)</text><text transform="translate(26.5,405.3) rotate(-90)" font-size="9.9" text-anchor="middle" fill="#1c1c1c" stroke="#1c1c1c" stroke-width="0.18">DNS during retro-cue stage</text><text x="228" y="470.5" font-size="9.75" text-anchor="start" fill="#1c1c1c" stroke="#1c1c1c" stroke-width="0.18" ><tspan font-style="italic">r</tspan> = -0.324</text><text x="228" y="481.9" font-size="9.75" text-anchor="start" fill="#1c1c1c" stroke="#1c1c1c" stroke-width="0.18" ><tspan font-style="italic">p</tspan> &lt; 0.05</text><text x="0.5" y="294" font-size="13.8" text-anchor="start" fill="#111" stroke="#111" stroke-width="0.18" style="stroke-width:0.2">C</text><rect x="423" y="315.4" width="15.6" height="4" fill="#e8a0a8" fill-opacity="0.3" stroke="#777" stroke-opacity="0.45" stroke-width="0.6"/><rect x="454.4" y="304" width="15.6" height="15.4" fill="#e8a0a8" fill-opacity="0.3" stroke="#777" stroke-opacity="0.45" stroke-width="0.6"/><rect x="470" y="315" width="15.6" height="4.4" fill="#e8a0a8" fill-opacity="0.3" stroke="#777" stroke-opacity="0.45" stroke-width="0.6"/><rect x="485.6" y="300" width="15.6" height="19.4" fill="#e8a0a8" fill-opacity="0.3" stroke="#777" stroke-opacity="0.45" stroke-width="0.6"/><rect x="501.2" y="285" width="15.4" height="34.4" fill="#e8a0a8" fill-opacity="0.3" stroke="#777" stroke-opacity="0.45" stroke-width="0.6"/><rect x="516.6" y="273.4" width="15.4" height="46" fill="#e8a0a8" fill-opacity="0.3" stroke="#777" stroke-opacity="0.45" stroke-width="0.6"/><rect x="532" y="269.4" width="15.6" height="50" fill="#e8a0a8" fill-opacity="0.3" stroke="#777" stroke-opacity="0.45" stroke-width="0.6"/><rect x="547.6" y="296" width="16" height="23.4" fill="#e8a0a8" fill-opacity="0.3" stroke="#777" stroke-opacity="0.45" stroke-width="0.6"/><rect x="563.6" y="307.8" width="15.7" height="11.6" fill="#e8a0a8" fill-opacity="0.3" stroke="#777" stroke-opacity="0.45" stroke-width="0.6"/><rect x="579.3" y="315.2" width="15.2" height="4.2" fill="#e8a0a8" fill-opacity="0.3" stroke="#777" stroke-opacity="0.45" stroke-width="0.6"/><rect x="594.5" y="315.2" width="16.3" height="4.2" fill="#e8a0a8" fill-opacity="0.3" stroke="#777" stroke-opacity="0.45" stroke-width="0.6"/><rect x="633.8" y="333" width="2.7" height="13.3" fill="#e8a0a8" fill-opacity="0.3" stroke="#777" stroke-opacity="0.45" stroke-width="0.6"/><rect x="633.8" y="359.3" width="11.8" height="13.4" fill="#e8a0a8" fill-opacity="0.3" stroke="#777" stroke-opacity="0.45" stroke-width="0.6"/><rect x="633.8" y="372.7" width="2.7" height="13.3" fill="#e8a0a8" fill-opacity="0.3" stroke="#777" stroke-opacity="0.45" stroke-width="0.6"/><rect x="633.8" y="386" width="24" height="13.1" fill="#e8a0a8" fill-opacity="0.3" stroke="#777" stroke-opacity="0.45" stroke-width="0.6"/><rect x="633.8" y="399.1" width="32.9" height="13.3" fill="#e8a0a8" fill-opacity="0.3" stroke="#777" stroke-opacity="0.45" stroke-width="0.6"/><rect x="633.8" y="412.4" width="44.9" height="13.4" fill="#e8a0a8" fill-opacity="0.3" stroke="#777" stroke-opacity="0.45" stroke-width="0.6"/><rect x="633.8" y="425.8" width="21" height="13.3" fill="#e8a0a8" fill-opacity="0.3" stroke="#777" stroke-opacity="0.45" stroke-width="0.6"/><rect x="633.8" y="439.1" width="9" height="13" fill="#e8a0a8" fill-opacity="0.3" stroke="#777" stroke-opacity="0.45" stroke-width="0.6"/><rect x="633.8" y="452.1" width="11.9" height="13.4" fill="#e8a0a8" fill-opacity="0.3" stroke="#777" stroke-opacity="0.45" stroke-width="0.6"/><rect x="633.8" y="465.5" width="2.9" height="13.5" fill="#e8a0a8" fill-opacity="0.3" stroke="#777" stroke-opacity="0.45" stroke-width="0.6"/><path d="M408,319.4 C410.67,319.27 418.67,319 424,318.6 C429.33,318.2 434.67,317.77 440,317 C445.33,316.23 451,315.33 456,314 C461,312.67 465,311.33 470,309 C475,306.67 480.67,303.5 486,300 C491.33,296.5 497,291 502,288 C507,285 512.17,283.33 516,282 C519.83,280.67 521.67,280 525,280 C528.33,280 531.83,280.5 536,282 C540.17,283.5 545.67,286.5 550,289 C554.33,291.5 558,294.17 562,297 C566,299.83 569.83,303.33 574,306 C578.17,308.67 583.53,311.38 587,313 C590.47,314.62 590.13,314.78 594.8,315.7 C599.47,316.62 608.58,317.88 615,318.5 C621.42,319.12 630.25,319.25 633.3,319.4" fill="none" stroke="#dd7b82" stroke-width="1"/><path d="M633.7,319.6 C633.83,321.88 634.17,328.47 634.5,333.3 C634.83,338.13 635,344.27 635.7,348.6 C636.4,352.93 637.43,355.73 638.7,359.3 C639.97,362.87 641.52,366.7 643.3,370 C645.08,373.3 647.37,376.3 649.4,379.1 C651.43,381.9 653.58,384.25 655.5,386.8 C657.42,389.35 659.32,391.7 660.9,394.4 C662.48,397.1 664,399.83 665,403 C666,406.17 666.98,409.77 666.9,413.4 C666.82,417.03 666.23,420.67 664.5,424.8 C662.77,428.93 659.53,433.43 656.5,438.2 C653.47,442.97 649.28,448.63 646.3,453.4 C643.32,458.17 640.52,462.33 638.6,466.8 C636.68,471.27 635.58,475.93 634.8,480.2 C634.02,484.47 634.05,490.37 633.9,492.4" fill="none" stroke="#dd7b82" stroke-width="1"/><circle cx="540.3" cy="341.5" r="5.35" fill="#dc8490" fill-opacity="0.5"/><circle cx="542" cy="353.3" r="5.35" fill="#dc8490" fill-opacity="0.5"/><circle cx="517.6" cy="367.5" r="5.35" fill="#dc8490" fill-opacity="0.5"/><circle cx="555.7" cy="362" r="5.35" fill="#dc8490" fill-opacity="0.5"/><circle cx="571.3" cy="364.7" r="5.35" fill="#dc8490" fill-opacity="0.5"/><circle cx="549" cy="372.1" r="5.35" fill="#dc8490" fill-opacity="0.5"/><circle cx="507" cy="383.5" r="5.35" fill="#dc8490" fill-opacity="0.5"/><circle cx="503.4" cy="394.4" r="5.35" fill="#dc8490" fill-opacity="0.5"/><circle cx="509.2" cy="399.1" r="5.35" fill="#dc8490" fill-opacity="0.5"/><circle cx="527.4" cy="390.2" r="5.35" fill="#dc8490" fill-opacity="0.5"/><circle cx="530.2" cy="394.4" r="5.35" fill="#dc8490" fill-opacity="0.5"/><circle cx="531.9" cy="400.3" r="5.35" fill="#dc8490" fill-opacity="0.5"/><circle cx="526.9" cy="404.3" r="5.35" fill="#dc8490" fill-opacity="0.5"/><circle cx="538.3" cy="393.5" r="5.35" fill="#dc8490" fill-opacity="0.5"/><circle cx="544" cy="397.7" r="5.35" fill="#dc8490" fill-opacity="0.5"/><circle cx="564.3" cy="394.5" r="5.35" fill="#dc8490" fill-opacity="0.5"/><circle cx="555.4" cy="402.8" r="5.35" fill="#dc8490" fill-opacity="0.5"/><circle cx="557.1" cy="408.4" r="5.35" fill="#dc8490" fill-opacity="0.5"/><circle cx="542.8" cy="406.5" r="5.35" fill="#dc8490" fill-opacity="0.5"/><circle cx="588.5" cy="403" r="5.35" fill="#dc8490" fill-opacity="0.5"/><circle cx="609.1" cy="391" r="5.35" fill="#dc8490" fill-opacity="0.5"/><circle cx="489.4" cy="403.8" r="5.35" fill="#dc8490" fill-opacity="0.5"/><circle cx="429.3" cy="416.3" r="5.35" fill="#dc8490" fill-opacity="0.5"/><circle cx="457.4" cy="410.4" r="5.35" fill="#dc8490" fill-opacity="0.5"/><circle cx="476.8" cy="414.3" r="5.35" fill="#dc8490" fill-opacity="0.5"/><circle cx="501.5" cy="411.5" r="5.35" fill="#dc8490" fill-opacity="0.5"/><circle cx="487.3" cy="421.9" r="5.35" fill="#dc8490" fill-opacity="0.5"/><circle cx="493.1" cy="423.5" r="5.35" fill="#dc8490" fill-opacity="0.5"/><circle cx="504" cy="421" r="5.35" fill="#dc8490" fill-opacity="0.5"/><circle cx="513.8" cy="415.1" r="5.35" fill="#dc8490" fill-opacity="0.5"/><circle cx="519.2" cy="425.2" r="5.35" fill="#dc8490" fill-opacity="0.5"/><circle cx="494.8" cy="436.1" r="5.35" fill="#dc8490" fill-opacity="0.5"/><circle cx="501" cy="434.4" r="5.35" fill="#dc8490" fill-opacity="0.5"/><circle cx="463.8" cy="457.6" r="5.35" fill="#dc8490" fill-opacity="0.5"/><circle cx="465.8" cy="457.6" r="5.35" fill="#dc8490" fill-opacity="0.5"/><circle cx="464.1" cy="469.7" r="5.35" fill="#dc8490" fill-opacity="0.5"/><circle cx="512.8" cy="461.3" r="5.35" fill="#dc8490" fill-opacity="0.5"/><circle cx="578.1" cy="413.1" r="5.35" fill="#dc8490" fill-opacity="0.5"/><circle cx="531.9" cy="416" r="5.35" fill="#dc8490" fill-opacity="0.5"/><circle cx="539.4" cy="416.8" r="5.35" fill="#dc8490" fill-opacity="0.5"/><circle cx="534.4" cy="421" r="5.35" fill="#dc8490" fill-opacity="0.5"/><circle cx="521" cy="423.5" r="5.35" fill="#dc8490" fill-opacity="0.5"/><circle cx="524.3" cy="427.7" r="5.35" fill="#dc8490" fill-opacity="0.5"/><circle cx="544.5" cy="427.7" r="5.35" fill="#dc8490" fill-opacity="0.5"/><circle cx="547.8" cy="432.8" r="5.35" fill="#dc8490" fill-opacity="0.5"/><circle cx="558.8" cy="426.1" r="5.35" fill="#dc8490" fill-opacity="0.5"/><circle cx="543.3" cy="441.7" r="5.35" fill="#dc8490" fill-opacity="0.5"/><circle cx="540.3" cy="447.4" r="5.35" fill="#dc8490" fill-opacity="0.5"/><circle cx="528.5" cy="448.4" r="5.35" fill="#dc8490" fill-opacity="0.5"/><circle cx="524.7" cy="460.1" r="5.35" fill="#dc8490" fill-opacity="0.5"/><line x1="429.2" y1="441.3" x2="609.4" y2="386.8" stroke="#dd7b82" stroke-width="1.1" /><line x1="408" y1="319.4" x2="633.8" y2="319.4" stroke="#5a5a5a" stroke-width="1" /><line x1="633.8" y1="318.9" x2="633.8" y2="492.4" stroke="#3a3a3a" stroke-width="1" /><line x1="408" y1="492.4" x2="633.8" y2="492.4" stroke="#3a3a3a" stroke-width="1" /><line x1="408" y1="319.4" x2="408" y2="492.9" stroke="#8a8a8a" stroke-width="1.3" /><line x1="404.6" y1="319.4" x2="408" y2="319.4" stroke="#666" stroke-width="0.9" /><text x="402.8" y="322.9" font-size="9.5" text-anchor="end" fill="#1c1c1c" stroke="#1c1c1c" stroke-width="0.18" >0.88</text><line x1="404.6" y1="372.6" x2="408" y2="372.6" stroke="#666" stroke-width="0.9" /><text x="402.8" y="376.1" font-size="9.5" text-anchor="end" fill="#1c1c1c" stroke="#1c1c1c" stroke-width="0.18" >0.84</text><line x1="404.6" y1="425.7" x2="408" y2="425.7" stroke="#666" stroke-width="0.9" /><text x="402.8" y="429.2" font-size="9.5" text-anchor="end" fill="#1c1c1c" stroke="#1c1c1c" stroke-width="0.18" >0.80</text><line x1="404.6" y1="479" x2="408" y2="479" stroke="#666" stroke-width="0.9" /><text x="402.8" y="482.5" font-size="9.5" text-anchor="end" fill="#1c1c1c" stroke="#1c1c1c" stroke-width="0.18" >0.76</text><line x1="439" y1="492.4" x2="439" y2="495.8" stroke="#8a8a8a" stroke-width="0.9" /><text x="439" y="504.8" font-size="9.5" text-anchor="middle" fill="#1c1c1c" stroke="#1c1c1c" stroke-width="0.18" >0.7</text><line x1="516.6" y1="492.4" x2="516.6" y2="495.8" stroke="#8a8a8a" stroke-width="0.9" /><text x="516.6" y="504.8" font-size="9.5" text-anchor="middle" fill="#1c1c1c" stroke="#1c1c1c" stroke-width="0.18" >0.8</text><line x1="594.4" y1="492.4" x2="594.4" y2="495.8" stroke="#8a8a8a" stroke-width="0.9" /><text x="594.4" y="504.8" font-size="9.5" text-anchor="middle" fill="#1c1c1c" stroke="#1c1c1c" stroke-width="0.18" >0.9</text><text x="520.4" y="520.5" font-size="9.9" text-anchor="middle" fill="#1c1c1c" stroke="#1c1c1c" stroke-width="0.18" >Actual behavioral accuracy</text><text transform="translate(381,405.3) rotate(-90)" font-size="9.9" text-anchor="middle" fill="#1c1c1c" stroke="#1c1c1c" stroke-width="0.18">Predicted behavioral accuracy</text><text x="561.8" y="462" font-size="9.9" text-anchor="start" fill="#1c1c1c" stroke="#1c1c1c" stroke-width="0.18" ><tspan font-style="italic">r</tspan> = 0.376</text><text x="561.8" y="474.3" font-size="9.9" text-anchor="start" fill="#1c1c1c" stroke="#1c1c1c" stroke-width="0.18" ><tspan font-style="italic">p</tspan> &lt; 0.005</text><text x="561.8" y="486.5" font-size="9.9" text-anchor="start" fill="#1c1c1c" stroke="#1c1c1c" stroke-width="0.18" ><tspan font-style="italic">RMSE</tspan> = 0.040</text><text x="349.4" y="294" font-size="13.8" text-anchor="start" fill="#111" stroke="#111" stroke-width="0.18" style="stroke-width:0.2">D</text></g></svg>
</body></html>
